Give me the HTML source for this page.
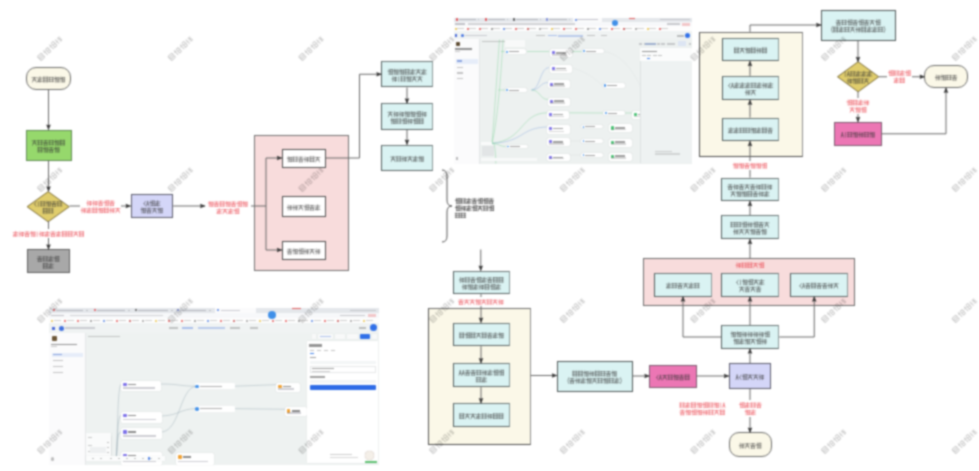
<!DOCTYPE html><html><head><meta charset="utf-8"><style>
html,body{margin:0;padding:0;background:#fff;width:979px;height:471px;overflow:hidden;font-family:"Liberation Sans",sans-serif}
.b,.t{position:absolute;box-sizing:border-box;display:block}
#wrap{position:absolute;left:0;top:0;width:979px;height:471px;filter:url(#bl);background:#fff}
</style></head><body><svg width="0" height="0" style="position:absolute"><filter id="bl" x="0" y="0" width="100%" height="100%" color-interpolation-filters="sRGB"><feConvolveMatrix order="5" kernelMatrix="1 8 16 8 1 8 64 128 64 8 16 128 256 128 16 8 64 128 64 8 1 8 16 8 1" divisor="1156" edgeMode="duplicate" preserveAlpha="true"/></filter></svg><div id="wrap">
<div class="b" style="left:453.7px;top:17.5px;width:238.0px;height:146.0px;background:#edf1f0;"></div><div class="b" style="left:453.7px;top:17.5px;width:238.0px;height:4.1px;background:#e4e7eb;"></div><div class="b" style="left:455.7px;top:18.4px;width:2.2px;height:2.2px;border-radius:50%;background:#e0474c;"></div><div class="b" style="left:458.5px;top:19.0px;width:17.5px;height:1.1px;background:rgba(90,90,100,0.35);"></div><div class="b" style="left:477.5px;top:19.0px;width:1.0px;height:1.1px;background:rgba(90,90,100,0.3);"></div><div class="b" style="left:484.7px;top:18.4px;width:2.2px;height:2.2px;border-radius:50%;background:#e0474c;"></div><div class="b" style="left:487.5px;top:19.0px;width:17.5px;height:1.1px;background:rgba(90,90,100,0.35);"></div><div class="b" style="left:506.5px;top:19.0px;width:1.0px;height:1.1px;background:rgba(90,90,100,0.3);"></div><div class="b" style="left:512.7px;top:18.4px;width:2.2px;height:2.2px;border-radius:50%;background:#555;"></div><div class="b" style="left:515.5px;top:19.0px;width:22.5px;height:1.1px;background:rgba(90,90,100,0.35);"></div><div class="b" style="left:539.5px;top:19.0px;width:1.0px;height:1.1px;background:rgba(90,90,100,0.3);"></div><div class="b" style="left:545.7px;top:18.4px;width:2.2px;height:2.2px;border-radius:50%;background:#7a8ad8;"></div><div class="b" style="left:548.5px;top:19.0px;width:18.5px;height:1.1px;background:rgba(90,90,100,0.35);"></div><div class="b" style="left:568.5px;top:19.0px;width:1.0px;height:1.1px;background:rgba(90,90,100,0.3);"></div><div class="b" style="left:573.0px;top:17.6px;width:29.3px;height:4.0px;background:#fbfbfc;"></div><div class="b" style="left:574.5px;top:18.5px;width:2.0px;height:2.0px;border-radius:50%;background:#4a7ae0;"></div><div class="b" style="left:577.0px;top:19.0px;width:21.0px;height:1.1px;background:rgba(90,90,110,0.35);"></div><div class="b" style="left:629.0px;top:17.5px;width:6.4px;height:0.7px;background:#e05a5a;"></div><div class="b" style="left:660.0px;top:19.0px;width:30.0px;height:1.1px;background:rgba(90,90,100,0.25);"></div><div class="b" style="left:453.7px;top:21.6px;width:238.0px;height:4.7px;background:#f7f8fa;"></div><div class="b" style="left:455.0px;top:23.4px;width:10.0px;height:1.2px;background:rgba(90,90,100,0.35);"></div><div class="b" style="left:468.0px;top:23.2px;width:107.0px;height:1.5px;background:rgba(110,110,120,0.28);"></div><div class="b" style="left:667.0px;top:23.2px;width:13.0px;height:1.5px;background:rgba(90,90,100,0.3);"></div><div class="b" style="left:682.0px;top:22.5px;width:8.0px;height:3.0px;background:#f2c6c8;"></div><div class="b" style="left:453.7px;top:26.3px;width:238.0px;height:4.9px;background:#fdfdfd;"></div><div class="b" style="left:455.0px;top:27.8px;width:1.6px;height:1.8px;background:#e8c040;border-radius:50%"></div><div class="b" style="left:457.3px;top:28.1px;width:6.7px;height:1.2px;background:rgba(100,100,100,0.3);"></div><div class="b" style="left:467.0px;top:27.8px;width:1.6px;height:1.8px;background:#e05050;border-radius:50%"></div><div class="b" style="left:469.3px;top:28.1px;width:6.7px;height:1.2px;background:rgba(100,100,100,0.3);"></div><div class="b" style="left:479.0px;top:27.8px;width:1.6px;height:1.8px;background:#e05050;border-radius:50%"></div><div class="b" style="left:481.3px;top:28.1px;width:6.7px;height:1.2px;background:rgba(100,100,100,0.3);"></div><div class="b" style="left:491.0px;top:27.8px;width:1.6px;height:1.8px;background:#888;border-radius:50%"></div><div class="b" style="left:493.3px;top:28.1px;width:6.7px;height:1.2px;background:rgba(100,100,100,0.3);"></div><div class="b" style="left:503.0px;top:27.8px;width:1.6px;height:1.8px;background:#5080e0;border-radius:50%"></div><div class="b" style="left:505.3px;top:28.1px;width:6.7px;height:1.2px;background:rgba(100,100,100,0.3);"></div><div class="b" style="left:515.0px;top:27.8px;width:1.6px;height:1.8px;background:#e05050;border-radius:50%"></div><div class="b" style="left:517.3px;top:28.1px;width:6.7px;height:1.2px;background:rgba(100,100,100,0.3);"></div><div class="b" style="left:527.0px;top:27.8px;width:1.6px;height:1.8px;background:#c04848;border-radius:50%"></div><div class="b" style="left:529.3px;top:28.1px;width:6.7px;height:1.2px;background:rgba(100,100,100,0.3);"></div><div class="b" style="left:539.0px;top:27.8px;width:1.6px;height:1.8px;background:#999;border-radius:50%"></div><div class="b" style="left:541.3px;top:28.1px;width:6.7px;height:1.2px;background:rgba(100,100,100,0.3);"></div><div class="b" style="left:551.0px;top:27.8px;width:1.6px;height:1.8px;background:#e8c040;border-radius:50%"></div><div class="b" style="left:553.3px;top:28.1px;width:6.7px;height:1.2px;background:rgba(100,100,100,0.3);"></div><div class="b" style="left:563.0px;top:27.8px;width:1.6px;height:1.8px;background:#e05050;border-radius:50%"></div><div class="b" style="left:565.3px;top:28.1px;width:6.7px;height:1.2px;background:rgba(100,100,100,0.3);"></div><div class="b" style="left:575.0px;top:27.8px;width:1.6px;height:1.8px;background:#e05050;border-radius:50%"></div><div class="b" style="left:577.3px;top:28.1px;width:6.7px;height:1.2px;background:rgba(100,100,100,0.3);"></div><div class="b" style="left:587.0px;top:27.8px;width:1.6px;height:1.8px;background:#888;border-radius:50%"></div><div class="b" style="left:589.3px;top:28.1px;width:6.7px;height:1.2px;background:rgba(100,100,100,0.3);"></div><div class="b" style="left:599.0px;top:27.8px;width:1.6px;height:1.8px;background:#5080e0;border-radius:50%"></div><div class="b" style="left:601.3px;top:28.1px;width:6.7px;height:1.2px;background:rgba(100,100,100,0.3);"></div><div class="b" style="left:611.0px;top:27.8px;width:1.6px;height:1.8px;background:#e05050;border-radius:50%"></div><div class="b" style="left:613.3px;top:28.1px;width:6.7px;height:1.2px;background:rgba(100,100,100,0.3);"></div><div class="b" style="left:623.0px;top:27.8px;width:1.6px;height:1.8px;background:#c04848;border-radius:50%"></div><div class="b" style="left:625.3px;top:28.1px;width:6.7px;height:1.2px;background:rgba(100,100,100,0.3);"></div><div class="b" style="left:635.0px;top:27.8px;width:1.6px;height:1.8px;background:#999;border-radius:50%"></div><div class="b" style="left:637.3px;top:28.1px;width:6.7px;height:1.2px;background:rgba(100,100,100,0.3);"></div><div class="b" style="left:647.0px;top:27.8px;width:1.6px;height:1.8px;background:#e8c040;border-radius:50%"></div><div class="b" style="left:649.3px;top:28.1px;width:6.7px;height:1.2px;background:rgba(100,100,100,0.3);"></div><div class="b" style="left:659.0px;top:27.8px;width:1.6px;height:1.8px;background:#e05050;border-radius:50%"></div><div class="b" style="left:661.3px;top:28.1px;width:6.7px;height:1.2px;background:rgba(100,100,100,0.3);"></div><div class="b" style="left:453.7px;top:31.2px;width:238.0px;height:7.8px;background:#f0f3f3;"></div><div class="b" style="left:611.7px;top:20.3px;width:6.0px;height:6.0px;border-radius:50%;background:#3f8fe8;"></div><div class="b" style="left:455.1px;top:34.2px;width:2.1px;height:2.8px;background:#4a6ad8;"></div><div class="b" style="left:460.9px;top:33.8px;width:3.6px;height:3.6px;border-radius:50%;background:#3f6fe0;"></div><div class="b" style="left:465.0px;top:35.0px;width:22.0px;height:1.2px;background:rgba(80,80,100,0.25);"></div><div class="b" style="left:536.0px;top:34.8px;width:9.0px;height:1.5px;background:rgba(80,80,80,0.3);"></div><div class="b" style="left:548.0px;top:34.8px;width:9.0px;height:1.5px;background:rgba(60,110,220,0.4);"></div><div class="b" style="left:558.0px;top:34.5px;width:25.0px;height:2.0px;background:rgba(60,110,220,0.3);"></div><div class="b" style="left:587.0px;top:34.8px;width:8.0px;height:1.5px;background:rgba(80,80,80,0.3);"></div><div class="b" style="left:601.0px;top:34.8px;width:6.0px;height:1.5px;background:rgba(80,80,80,0.3);"></div><div class="b" style="left:685.2px;top:33.3px;width:5.2px;height:5.2px;border-radius:50%;background:#2f6fe8;"></div><div class="b" style="left:677.0px;top:35.0px;width:7.0px;height:1.5px;background:rgba(60,60,60,0.3);"></div><div class="b" style="left:453.7px;top:39.0px;width:26.3px;height:124.5px;background:#fbfbfc;border-right:0.5px solid #e4e6e8"></div><div class="b" style="left:455.5px;top:41.5px;width:4.0px;height:4.5px;background:#5c4a30;border-radius:1px"></div><div class="b" style="left:455.0px;top:48.0px;width:17.0px;height:1.5px;background:rgba(40,40,40,0.5);"></div><div class="b" style="left:455.0px;top:50.5px;width:5.0px;height:1.0px;background:rgba(80,80,80,0.3);"></div><div class="b" style="left:455.5px;top:58.5px;width:22.5px;height:5.5px;background:#e6edf9;"></div><div class="b" style="left:456.5px;top:60.3px;width:5.5px;height:1.9px;background:rgba(60,100,200,0.55);"></div><div class="b" style="left:456.5px;top:66.5px;width:6.5px;height:1.8px;background:rgba(90,90,90,0.35);"></div><div class="b" style="left:456.5px;top:72.0px;width:6.5px;height:1.8px;background:rgba(90,90,90,0.35);"></div><div class="b" style="left:456.5px;top:77.7px;width:6.5px;height:1.8px;background:rgba(90,90,90,0.35);"></div><div class="b" style="left:455.5px;top:157.0px;width:2.5px;height:2.5px;background:rgba(90,90,90,0.4);"></div><div class="b" style="left:481.5px;top:40.5px;width:23.5px;height:1.8px;background:rgba(90,90,90,0.3);"></div><div class="b" style="left:505.0px;top:40.0px;width:20.0px;height:7.0px;background:#f8f9f9;"></div><div class="b" style="left:638.5px;top:42.5px;width:3.0px;height:2.0px;background:rgba(90,90,100,0.28);"></div><div class="b" style="left:644.0px;top:42.5px;width:12.0px;height:2.0px;background:rgba(90,90,100,0.28);"></div><div class="b" style="left:657.0px;top:42.5px;width:2.5px;height:2.0px;background:rgba(90,90,100,0.28);"></div><div class="b" style="left:661.0px;top:42.5px;width:3.5px;height:2.0px;background:rgba(90,90,100,0.28);"></div><div class="b" style="left:667.0px;top:42.5px;width:8.0px;height:2.0px;background:rgba(90,90,100,0.28);"></div><div class="b" style="left:689.0px;top:42.5px;width:2.0px;height:2.0px;background:rgba(90,90,100,0.28);"></div><div class="b" style="left:645.0px;top:42.5px;width:11.0px;height:2.0px;background:rgba(70,120,220,0.3);"></div><div class="b" style="left:677.5px;top:41.0px;width:8.0px;height:5.0px;background:#dce5f3;"></div><svg class="b" style="left:0;top:0" width="979" height="471"><g fill="none" stroke-width="0.7"><path d="M492,143.3 C494,120 498,60 499.5,39.5" stroke="rgba(110,205,140,0.55)"/><path d="M492,143.3 C498,120 502,60 503,39.5" stroke="rgba(110,205,140,0.55)" /><path d="M501,51.5 L504.7,51.5" stroke="rgba(110,205,140,0.55)"/><path d="M527,51.5 L549.3,51.5" stroke="rgba(110,205,140,0.55)"/><path d="M572.4,51.5 L581.7,51.5" stroke="rgba(110,205,140,0.55)"/><path d="M498,90 L505.5,90" stroke="rgba(110,205,140,0.55)"/><path d="M531.5,90 C540,90 540,67.5 549,67.5" stroke="rgba(110,150,215,0.5)"/><path d="M531.5,90 C540,90 540,82.5 548,82.5" stroke="rgba(110,150,215,0.5)"/><path d="M531.5,90 C540,90 540,99.5 548,99.5" stroke="rgba(110,205,140,0.55)"/><path d="M492,143.3 C525,140 520,112.8 547.8,112.8" stroke="rgba(110,205,140,0.55)"/><path d="M569.4,112.8 L603.3,113 M624.8,113 L632.2,113" stroke="rgba(110,205,140,0.55)"/><path d="M492,143.3 C525,142 520,127 548.6,127" stroke="rgba(110,150,215,0.5)"/><path d="M492,143.3 C500,144 500,146.5 505.5,146.5" stroke="rgba(110,205,140,0.55)"/><path d="M494,143.3 C495.5,150 495.8,158 495.8,163.5" stroke="rgba(110,205,140,0.55)"/><path d="M604,51.5 C625,55 635,75 645,95 M573,68 C595,75 600,85 602.5,85.5 M570,141 L581,141 M570,155 L581,155" stroke="rgba(160,170,170,0.14)"/></g></svg><div class="b" style="left:481.0px;top:142.0px;width:11.0px;height:3.0px;background:#fafbfb;"></div><div class="b" style="left:504.7px;top:49.4px;width:21.6px;height:4.2px;background:#ffffff;border-radius:1.5px;box-shadow:0 0 1px rgba(0,0,0,0.25)"></div><div class="b" style="left:506.2px;top:50.5px;width:2.1px;height:2.1px;background:#3f8fe8;border-radius:1px"></div><div class="b" style="left:509.3px;top:51.2px;width:9.7px;height:0.7px;background:rgba(40,40,40,0.45);"></div><div class="b" style="left:550.0px;top:49.0px;width:22.4px;height:8.3px;background:#ffffff;border-radius:1.5px;box-shadow:0 0 1px rgba(0,0,0,0.25)"></div><div class="b" style="left:551.5px;top:51.2px;width:3.2px;height:3.2px;background:#7a6ee8;border-radius:1px"></div><div class="b" style="left:555.7px;top:51.9px;width:10.1px;height:1.8px;background:rgba(40,40,40,0.45);"></div><div class="b" style="left:551.5px;top:54.0px;width:15.3px;height:1.5px;background:rgba(90,90,90,0.25);"></div><div class="b" style="left:581.7px;top:49.4px;width:22.3px;height:3.7px;background:#ffffff;border-radius:1.5px;box-shadow:0 0 1px rgba(0,0,0,0.25)"></div><div class="b" style="left:583.2px;top:50.3px;width:1.9px;height:1.9px;background:#3f8fe8;border-radius:1px"></div><div class="b" style="left:586.1px;top:51.0px;width:10.0px;height:0.4px;background:rgba(40,40,40,0.45);"></div><div class="b" style="left:550.0px;top:64.7px;width:22.0px;height:8.2px;background:#ffffff;border-radius:1.5px;box-shadow:0 0 1px rgba(0,0,0,0.25)"></div><div class="b" style="left:551.5px;top:66.9px;width:3.2px;height:3.2px;background:#7a6ee8;border-radius:1px"></div><div class="b" style="left:555.7px;top:67.6px;width:9.9px;height:1.8px;background:rgba(40,40,40,0.45);"></div><div class="b" style="left:551.5px;top:69.6px;width:15.0px;height:1.5px;background:rgba(90,90,90,0.25);"></div><div class="b" style="left:548.0px;top:80.4px;width:22.0px;height:8.1px;background:#ffffff;border-radius:1.5px;box-shadow:0 0 1px rgba(0,0,0,0.25)"></div><div class="b" style="left:549.5px;top:82.6px;width:3.2px;height:3.2px;background:#7a6ee8;border-radius:1px"></div><div class="b" style="left:553.7px;top:83.3px;width:9.9px;height:1.8px;background:rgba(40,40,40,0.45);"></div><div class="b" style="left:549.5px;top:85.2px;width:15.0px;height:1.5px;background:rgba(90,90,90,0.25);"></div><div class="b" style="left:548.0px;top:97.5px;width:22.0px;height:8.0px;background:#ffffff;border-radius:1.5px;box-shadow:0 0 1px rgba(0,0,0,0.25)"></div><div class="b" style="left:549.5px;top:99.7px;width:3.2px;height:3.2px;background:#7a6ee8;border-radius:1px"></div><div class="b" style="left:553.7px;top:100.4px;width:9.9px;height:1.8px;background:rgba(40,40,40,0.45);"></div><div class="b" style="left:549.5px;top:102.2px;width:15.0px;height:1.5px;background:rgba(90,90,90,0.25);"></div><div class="b" style="left:504.7px;top:88.0px;width:22.3px;height:4.0px;background:#ffffff;border-radius:1.5px;box-shadow:0 0 1px rgba(0,0,0,0.25)"></div><div class="b" style="left:506.2px;top:89.0px;width:2.0px;height:2.0px;background:#3f8fe8;border-radius:1px"></div><div class="b" style="left:509.2px;top:89.7px;width:10.0px;height:0.6px;background:rgba(40,40,40,0.45);"></div><div class="b" style="left:602.5px;top:83.3px;width:22.3px;height:4.5px;background:#ffffff;border-radius:1.5px;box-shadow:0 0 1px rgba(0,0,0,0.25)"></div><div class="b" style="left:604.0px;top:84.4px;width:2.2px;height:2.2px;background:#3f8fe8;border-radius:1px"></div><div class="b" style="left:607.2px;top:85.1px;width:10.0px;height:0.8px;background:rgba(40,40,40,0.45);"></div><div class="b" style="left:547.0px;top:110.6px;width:22.4px;height:8.2px;background:#ffffff;border-radius:1.5px;box-shadow:0 0 1px rgba(0,0,0,0.25)"></div><div class="b" style="left:548.5px;top:112.8px;width:3.2px;height:3.2px;background:#7a6ee8;border-radius:1px"></div><div class="b" style="left:552.7px;top:113.5px;width:10.1px;height:1.8px;background:rgba(40,40,40,0.45);"></div><div class="b" style="left:548.5px;top:115.5px;width:15.3px;height:1.5px;background:rgba(90,90,90,0.25);"></div><div class="b" style="left:547.0px;top:124.7px;width:23.0px;height:9.3px;background:#ffffff;border-radius:1.5px;box-shadow:0 0 1px rgba(0,0,0,0.25)"></div><div class="b" style="left:548.5px;top:126.9px;width:3.2px;height:3.2px;background:#7a6ee8;border-radius:1px"></div><div class="b" style="left:552.7px;top:127.6px;width:10.4px;height:1.8px;background:rgba(40,40,40,0.45);"></div><div class="b" style="left:548.5px;top:130.7px;width:15.8px;height:1.5px;background:rgba(90,90,90,0.25);"></div><div class="b" style="left:547.0px;top:138.0px;width:23.0px;height:8.3px;background:#ffffff;border-radius:1.5px;box-shadow:0 0 1px rgba(0,0,0,0.25)"></div><div class="b" style="left:548.5px;top:140.2px;width:3.2px;height:3.2px;background:#7a6ee8;border-radius:1px"></div><div class="b" style="left:552.7px;top:140.9px;width:10.4px;height:1.8px;background:rgba(40,40,40,0.45);"></div><div class="b" style="left:548.5px;top:143.0px;width:15.8px;height:1.5px;background:rgba(90,90,90,0.25);"></div><div class="b" style="left:547.0px;top:153.7px;width:23.0px;height:7.5px;background:#ffffff;border-radius:1.5px;box-shadow:0 0 1px rgba(0,0,0,0.25)"></div><div class="b" style="left:548.5px;top:155.9px;width:3.2px;height:3.2px;background:#7a6ee8;border-radius:1px"></div><div class="b" style="left:552.7px;top:156.6px;width:10.4px;height:1.8px;background:rgba(40,40,40,0.45);"></div><div class="b" style="left:548.5px;top:157.9px;width:15.8px;height:1.5px;background:rgba(90,90,90,0.25);"></div><div class="b" style="left:505.5px;top:144.8px;width:22.3px;height:3.4px;background:#ffffff;border-radius:1.5px;box-shadow:0 0 1px rgba(0,0,0,0.25)"></div><div class="b" style="left:507.0px;top:145.7px;width:1.7px;height:1.7px;background:#3f8fe8;border-radius:1px"></div><div class="b" style="left:509.7px;top:146.3px;width:10.0px;height:0.3px;background:rgba(40,40,40,0.45);"></div><div class="b" style="left:603.3px;top:111.0px;width:21.5px;height:4.0px;background:#ffffff;border-radius:1.5px;box-shadow:0 0 1px rgba(0,0,0,0.25)"></div><div class="b" style="left:604.8px;top:112.0px;width:2.0px;height:2.0px;background:#3f8fe8;border-radius:1px"></div><div class="b" style="left:607.8px;top:112.7px;width:9.7px;height:0.6px;background:rgba(40,40,40,0.45);"></div><div class="b" style="left:632.2px;top:110.6px;width:12.8px;height:8.2px;background:#ffffff;border-radius:1.5px;box-shadow:0 0 1px rgba(0,0,0,0.25)"></div><div class="b" style="left:633.7px;top:112.8px;width:3.2px;height:3.2px;background:#45c070;border-radius:1px"></div><div class="b" style="left:637.9px;top:113.5px;width:5.8px;height:1.8px;background:rgba(40,40,40,0.45);"></div><div class="b" style="left:633.7px;top:115.5px;width:8.1px;height:1.5px;background:rgba(90,90,90,0.25);"></div><div class="b" style="left:581.0px;top:124.7px;width:22.0px;height:3.8px;background:#ffffff;border-radius:1.5px;box-shadow:0 0 1px rgba(0,0,0,0.25)"></div><div class="b" style="left:582.5px;top:125.7px;width:1.9px;height:1.9px;background:#3f8fe8;border-radius:1px"></div><div class="b" style="left:585.4px;top:126.4px;width:9.9px;height:0.5px;background:rgba(40,40,40,0.45);"></div><div class="b" style="left:609.0px;top:124.2px;width:23.0px;height:8.0px;background:#ffffff;border-radius:1.5px;box-shadow:0 0 1px rgba(0,0,0,0.25)"></div><div class="b" style="left:610.5px;top:126.4px;width:3.2px;height:3.2px;background:#45c070;border-radius:1px"></div><div class="b" style="left:614.7px;top:127.1px;width:10.4px;height:1.8px;background:rgba(40,40,40,0.45);"></div><div class="b" style="left:610.5px;top:128.9px;width:15.8px;height:1.5px;background:rgba(90,90,90,0.25);"></div><div class="b" style="left:581.0px;top:139.0px;width:22.0px;height:3.8px;background:#ffffff;border-radius:1.5px;box-shadow:0 0 1px rgba(0,0,0,0.25)"></div><div class="b" style="left:582.5px;top:139.9px;width:1.9px;height:1.9px;background:#3f8fe8;border-radius:1px"></div><div class="b" style="left:585.4px;top:140.6px;width:9.9px;height:0.5px;background:rgba(40,40,40,0.45);"></div><div class="b" style="left:609.0px;top:138.5px;width:23.0px;height:8.0px;background:#ffffff;border-radius:1.5px;box-shadow:0 0 1px rgba(0,0,0,0.25)"></div><div class="b" style="left:610.5px;top:140.7px;width:3.2px;height:3.2px;background:#45c070;border-radius:1px"></div><div class="b" style="left:614.7px;top:141.4px;width:10.4px;height:1.8px;background:rgba(40,40,40,0.45);"></div><div class="b" style="left:610.5px;top:143.2px;width:15.8px;height:1.5px;background:rgba(90,90,90,0.25);"></div><div class="b" style="left:581.0px;top:153.0px;width:22.0px;height:3.8px;background:#ffffff;border-radius:1.5px;box-shadow:0 0 1px rgba(0,0,0,0.25)"></div><div class="b" style="left:582.5px;top:153.9px;width:1.9px;height:1.9px;background:#3f8fe8;border-radius:1px"></div><div class="b" style="left:585.4px;top:154.6px;width:9.9px;height:0.5px;background:rgba(40,40,40,0.45);"></div><div class="b" style="left:609.0px;top:152.5px;width:23.0px;height:8.0px;background:#ffffff;border-radius:1.5px;box-shadow:0 0 1px rgba(0,0,0,0.25)"></div><div class="b" style="left:610.5px;top:154.7px;width:3.2px;height:3.2px;background:#45c070;border-radius:1px"></div><div class="b" style="left:614.7px;top:155.4px;width:10.4px;height:1.8px;background:rgba(40,40,40,0.45);"></div><div class="b" style="left:610.5px;top:157.2px;width:15.8px;height:1.5px;background:rgba(90,90,90,0.25);"></div><div class="b" style="left:481.7px;top:145.6px;width:12.6px;height:10.4px;background:#e2e5e6;"></div><div class="b" style="left:481.0px;top:157.5px;width:56.0px;height:3.5px;background:#f8f9f9;"></div><div class="b" style="left:639.7px;top:48.4px;width:52.0px;height:115.0px;background:#eef2f2;border-left:0.6px solid #dde2e2;box-shadow:-0.5px 0 1px rgba(0,0,0,0.05)"></div><div class="b" style="left:639.7px;top:48.4px;width:52.0px;height:12.6px;background:#fbfcfc;"></div><div class="b" style="left:641.5px;top:50.5px;width:15.5px;height:1.8px;background:rgba(40,40,40,0.5);"></div><div class="b" style="left:641.5px;top:54.8px;width:4.0px;height:1.7px;background:rgba(80,80,80,0.35);"></div><div class="b" style="left:647.0px;top:54.8px;width:4.0px;height:1.7px;background:rgba(80,80,80,0.35);"></div><div class="b" style="left:652.5px;top:54.8px;width:4.0px;height:1.7px;background:rgba(80,80,80,0.35);"></div><div class="b" style="left:658.0px;top:54.8px;width:4.0px;height:1.7px;background:rgba(80,80,80,0.35);"></div><div class="b" style="left:647.0px;top:57.5px;width:3.0px;height:0.7px;background:#3f7fe8;"></div><div class="b" style="left:655.0px;top:150.5px;width:17.0px;height:1.5px;background:rgba(90,90,90,0.25);"></div><div class="b" style="left:655.0px;top:153.0px;width:25.0px;height:1.5px;background:rgba(90,90,90,0.2);"></div>
<div class="b" style="left:49.3px;top:308.0px;width:329.5px;height:156.6px;background:#eef2f1;"></div><div class="b" style="left:49.3px;top:308.0px;width:329.5px;height:4.6px;background:#e4e7eb;"></div><div class="b" style="left:52.5px;top:308.9px;width:2.6px;height:2.6px;border-radius:50%;background:#e0474c;"></div><div class="b" style="left:56.0px;top:309.6px;width:27.0px;height:1.3px;background:rgba(90,90,100,0.35);"></div><div class="b" style="left:86.0px;top:309.6px;width:1.5px;height:1.3px;background:rgba(90,90,100,0.3);"></div><div class="b" style="left:93.5px;top:308.9px;width:2.6px;height:2.6px;border-radius:50%;background:#e0474c;"></div><div class="b" style="left:97.0px;top:309.6px;width:28.0px;height:1.3px;background:rgba(90,90,100,0.35);"></div><div class="b" style="left:128.0px;top:309.6px;width:1.5px;height:1.3px;background:rgba(90,90,100,0.3);"></div><div class="b" style="left:134.5px;top:308.9px;width:2.6px;height:2.6px;border-radius:50%;background:#555;"></div><div class="b" style="left:138.0px;top:309.6px;width:30.0px;height:1.3px;background:rgba(90,90,100,0.35);"></div><div class="b" style="left:171.0px;top:309.6px;width:1.5px;height:1.3px;background:rgba(90,90,100,0.3);"></div><div class="b" style="left:176.5px;top:308.9px;width:2.6px;height:2.6px;border-radius:50%;background:#7a8ad8;"></div><div class="b" style="left:180.0px;top:309.6px;width:26.0px;height:1.3px;background:rgba(90,90,100,0.35);"></div><div class="b" style="left:209.0px;top:309.6px;width:1.5px;height:1.3px;background:rgba(90,90,100,0.3);"></div><div class="b" style="left:215.0px;top:308.2px;width:40.5px;height:4.4px;background:#fbfbfc;"></div><div class="b" style="left:216.8px;top:309.0px;width:2.4px;height:2.4px;border-radius:50%;background:#4a7ae0;"></div><div class="b" style="left:221.0px;top:309.6px;width:19.0px;height:1.3px;background:rgba(90,90,110,0.3);"></div><div class="b" style="left:292.0px;top:308.0px;width:8.6px;height:0.8px;background:#e05a5a;"></div><div class="b" style="left:350.0px;top:309.6px;width:26.0px;height:1.3px;background:rgba(90,90,100,0.25);"></div><div class="b" style="left:49.3px;top:312.6px;width:329.5px;height:5.4px;background:#f7f8fa;"></div><div class="b" style="left:51.0px;top:314.6px;width:13.0px;height:1.3px;background:rgba(90,90,100,0.35);"></div><div class="b" style="left:70.0px;top:314.5px;width:93.0px;height:1.5px;background:rgba(110,110,120,0.28);"></div><div class="b" style="left:340.0px;top:314.5px;width:25.0px;height:1.5px;background:rgba(90,90,100,0.3);"></div><div class="b" style="left:367.7px;top:313.5px;width:8.3px;height:3.5px;background:#f2c6c8;"></div><div class="b" style="left:49.3px;top:318.0px;width:329.5px;height:5.4px;background:#fdfdfd;"></div><div class="b" style="left:51.0px;top:319.8px;width:2.0px;height:2.0px;background:#e8c040;border-radius:50%"></div><div class="b" style="left:53.8px;top:320.1px;width:7.7px;height:1.4px;background:rgba(100,100,100,0.3);"></div><div class="b" style="left:64.0px;top:319.8px;width:2.0px;height:2.0px;background:#e05050;border-radius:50%"></div><div class="b" style="left:66.8px;top:320.1px;width:7.7px;height:1.4px;background:rgba(100,100,100,0.3);"></div><div class="b" style="left:77.0px;top:319.8px;width:2.0px;height:2.0px;background:#e05050;border-radius:50%"></div><div class="b" style="left:79.8px;top:320.1px;width:7.7px;height:1.4px;background:rgba(100,100,100,0.3);"></div><div class="b" style="left:90.0px;top:319.8px;width:2.0px;height:2.0px;background:#888;border-radius:50%"></div><div class="b" style="left:92.8px;top:320.1px;width:7.7px;height:1.4px;background:rgba(100,100,100,0.3);"></div><div class="b" style="left:103.0px;top:319.8px;width:2.0px;height:2.0px;background:#5080e0;border-radius:50%"></div><div class="b" style="left:105.8px;top:320.1px;width:7.7px;height:1.4px;background:rgba(100,100,100,0.3);"></div><div class="b" style="left:116.0px;top:319.8px;width:2.0px;height:2.0px;background:#e05050;border-radius:50%"></div><div class="b" style="left:118.8px;top:320.1px;width:7.7px;height:1.4px;background:rgba(100,100,100,0.3);"></div><div class="b" style="left:129.0px;top:319.8px;width:2.0px;height:2.0px;background:#c04848;border-radius:50%"></div><div class="b" style="left:131.8px;top:320.1px;width:7.7px;height:1.4px;background:rgba(100,100,100,0.3);"></div><div class="b" style="left:142.0px;top:319.8px;width:2.0px;height:2.0px;background:#999;border-radius:50%"></div><div class="b" style="left:144.8px;top:320.1px;width:7.7px;height:1.4px;background:rgba(100,100,100,0.3);"></div><div class="b" style="left:155.0px;top:319.8px;width:2.0px;height:2.0px;background:#e8c040;border-radius:50%"></div><div class="b" style="left:157.8px;top:320.1px;width:7.7px;height:1.4px;background:rgba(100,100,100,0.3);"></div><div class="b" style="left:168.0px;top:319.8px;width:2.0px;height:2.0px;background:#e05050;border-radius:50%"></div><div class="b" style="left:170.8px;top:320.1px;width:7.7px;height:1.4px;background:rgba(100,100,100,0.3);"></div><div class="b" style="left:181.0px;top:319.8px;width:2.0px;height:2.0px;background:#e05050;border-radius:50%"></div><div class="b" style="left:183.8px;top:320.1px;width:7.7px;height:1.4px;background:rgba(100,100,100,0.3);"></div><div class="b" style="left:194.0px;top:319.8px;width:2.0px;height:2.0px;background:#888;border-radius:50%"></div><div class="b" style="left:196.8px;top:320.1px;width:7.7px;height:1.4px;background:rgba(100,100,100,0.3);"></div><div class="b" style="left:207.0px;top:319.8px;width:2.0px;height:2.0px;background:#5080e0;border-radius:50%"></div><div class="b" style="left:209.8px;top:320.1px;width:7.7px;height:1.4px;background:rgba(100,100,100,0.3);"></div><div class="b" style="left:220.0px;top:319.8px;width:2.0px;height:2.0px;background:#e05050;border-radius:50%"></div><div class="b" style="left:222.8px;top:320.1px;width:7.7px;height:1.4px;background:rgba(100,100,100,0.3);"></div><div class="b" style="left:233.0px;top:319.8px;width:2.0px;height:2.0px;background:#c04848;border-radius:50%"></div><div class="b" style="left:235.8px;top:320.1px;width:7.7px;height:1.4px;background:rgba(100,100,100,0.3);"></div><div class="b" style="left:246.0px;top:319.8px;width:2.0px;height:2.0px;background:#999;border-radius:50%"></div><div class="b" style="left:248.8px;top:320.1px;width:7.7px;height:1.4px;background:rgba(100,100,100,0.3);"></div><div class="b" style="left:259.0px;top:319.8px;width:2.0px;height:2.0px;background:#e8c040;border-radius:50%"></div><div class="b" style="left:261.8px;top:320.1px;width:7.7px;height:1.4px;background:rgba(100,100,100,0.3);"></div><div class="b" style="left:272.0px;top:319.8px;width:2.0px;height:2.0px;background:#e05050;border-radius:50%"></div><div class="b" style="left:274.8px;top:320.1px;width:7.7px;height:1.4px;background:rgba(100,100,100,0.3);"></div><div class="b" style="left:285.0px;top:319.8px;width:2.0px;height:2.0px;background:#e05050;border-radius:50%"></div><div class="b" style="left:287.8px;top:320.1px;width:7.7px;height:1.4px;background:rgba(100,100,100,0.3);"></div><div class="b" style="left:298.0px;top:319.8px;width:2.0px;height:2.0px;background:#888;border-radius:50%"></div><div class="b" style="left:300.8px;top:320.1px;width:7.7px;height:1.4px;background:rgba(100,100,100,0.3);"></div><div class="b" style="left:311.0px;top:319.8px;width:2.0px;height:2.0px;background:#5080e0;border-radius:50%"></div><div class="b" style="left:313.8px;top:320.1px;width:7.7px;height:1.4px;background:rgba(100,100,100,0.3);"></div><div class="b" style="left:324.0px;top:319.8px;width:2.0px;height:2.0px;background:#e05050;border-radius:50%"></div><div class="b" style="left:326.8px;top:320.1px;width:7.7px;height:1.4px;background:rgba(100,100,100,0.3);"></div><div class="b" style="left:337.0px;top:319.8px;width:2.0px;height:2.0px;background:#c04848;border-radius:50%"></div><div class="b" style="left:339.8px;top:320.1px;width:7.7px;height:1.4px;background:rgba(100,100,100,0.3);"></div><div class="b" style="left:350.0px;top:319.8px;width:2.0px;height:2.0px;background:#999;border-radius:50%"></div><div class="b" style="left:352.8px;top:320.1px;width:7.7px;height:1.4px;background:rgba(100,100,100,0.3);"></div><div class="b" style="left:363.0px;top:319.8px;width:2.0px;height:2.0px;background:#e8c040;border-radius:50%"></div><div class="b" style="left:365.8px;top:320.1px;width:7.7px;height:1.4px;background:rgba(100,100,100,0.3);"></div><div class="b" style="left:49.3px;top:323.4px;width:329.5px;height:9.6px;background:#f0f3f3;"></div><div class="b" style="left:268.3px;top:310.5px;width:8.0px;height:8.0px;border-radius:50%;background:#3f8fe8;"></div><div class="b" style="left:52.0px;top:326.5px;width:2.5px;height:3.5px;background:#4a6ad8;"></div><div class="b" style="left:59.3px;top:325.5px;width:5.0px;height:5.0px;border-radius:50%;background:#3f6fe0;"></div><div class="b" style="left:65.0px;top:327.4px;width:30.0px;height:1.4px;background:rgba(80,80,100,0.25);"></div><div class="b" style="left:169.0px;top:327.3px;width:9.0px;height:1.5px;background:rgba(80,80,80,0.3);"></div><div class="b" style="left:182.0px;top:327.3px;width:11.0px;height:1.5px;background:rgba(60,110,220,0.4);"></div><div class="b" style="left:198.0px;top:327.0px;width:27.0px;height:2.0px;background:rgba(60,110,220,0.3);"></div><div class="b" style="left:230.0px;top:327.3px;width:10.0px;height:1.5px;background:rgba(80,80,80,0.3);"></div><div class="b" style="left:250.0px;top:327.3px;width:8.0px;height:1.5px;background:rgba(80,80,80,0.3);"></div><div class="b" style="left:369.9px;top:324.4px;width:7.0px;height:7.0px;border-radius:50%;background:#2f6fe8;"></div><div class="b" style="left:359.0px;top:327.2px;width:6.5px;height:1.6px;background:rgba(60,60,60,0.3);"></div><div class="b" style="left:49.3px;top:333.0px;width:36.7px;height:131.6px;background:#fbfbfc;border-right:0.5px solid #e4e6e8"></div><div class="b" style="left:51.5px;top:335.5px;width:5.5px;height:5.5px;background:#6a5535;border-radius:1px"></div><div class="b" style="left:51.0px;top:343.5px;width:26.0px;height:1.5px;background:rgba(40,40,40,0.5);"></div><div class="b" style="left:51.0px;top:346.0px;width:6.0px;height:1.0px;background:rgba(80,80,80,0.3);"></div><div class="b" style="left:52.0px;top:352.5px;width:31.0px;height:4.0px;background:#e6edf9;"></div><div class="b" style="left:53.0px;top:353.8px;width:9.0px;height:1.4px;background:rgba(60,100,200,0.55);"></div><div class="b" style="left:53.0px;top:359.7px;width:10.0px;height:1.5px;background:rgba(90,90,90,0.35);"></div><div class="b" style="left:53.0px;top:365.7px;width:10.0px;height:1.5px;background:rgba(90,90,90,0.35);"></div><div class="b" style="left:53.0px;top:371.7px;width:10.0px;height:1.5px;background:rgba(90,90,90,0.35);"></div><div class="b" style="left:50.9px;top:457.4px;width:3.2px;height:3.2px;border-radius:50%;background:rgba(90,90,90,0.4);"></div><div class="b" style="left:88.0px;top:335.5px;width:32.0px;height:1.5px;background:rgba(90,90,90,0.3);"></div><div class="b" style="left:312.0px;top:334.0px;width:4.0px;height:4.7px;background:#f8f9f9;box-shadow:0 0 0.8px rgba(0,0,0,0.12)"></div><div class="b" style="left:318.0px;top:334.0px;width:15.0px;height:4.7px;background:#f8f9f9;box-shadow:0 0 0.8px rgba(0,0,0,0.12)"></div><div class="b" style="left:335.0px;top:334.0px;width:10.0px;height:4.7px;background:#f8f9f9;box-shadow:0 0 0.8px rgba(0,0,0,0.12)"></div><div class="b" style="left:347.0px;top:334.0px;width:11.0px;height:4.7px;background:#f8f9f9;box-shadow:0 0 0.8px rgba(0,0,0,0.12)"></div><div class="b" style="left:372.0px;top:334.0px;width:5.0px;height:4.7px;background:#f8f9f9;box-shadow:0 0 0.8px rgba(0,0,0,0.12)"></div><div class="b" style="left:320.0px;top:335.8px;width:11.0px;height:1.2px;background:rgba(60,110,220,0.4);"></div><div class="b" style="left:359.7px;top:334.0px;width:10.1px;height:4.6px;background:#2f6fe8;border-radius:1px"></div><svg class="b" style="left:0;top:0" width="979" height="471"><g fill="none" stroke-width="0.7"><path d="M116,461 C118,440 117,385 121.4,384" stroke="rgba(140,160,170,0.55)"/><path d="M116,461 C118,440 117,416 121.4,415" stroke="rgba(140,160,170,0.55)"/><path d="M116,461 C118,440 117,432 121.4,432" stroke="rgba(140,160,170,0.55)"/><path d="M160.8,384 C180,384 180,386.2 196,386.2" stroke="rgba(140,160,170,0.55)"/><path d="M162,416 C180,415 180,409 196,408.6" stroke="rgba(140,160,170,0.55)"/><path d="M162,432 C180,430 180,388 196,386.2" stroke="rgba(140,160,170,0.55)"/><path d="M235,386.2 L278,384.6" stroke="rgba(140,160,170,0.55)"/><path d="M235,408.6 L286,409.3" stroke="rgba(140,160,170,0.55)"/></g></svg><div class="b" style="left:121.4px;top:380.6px;width:39.4px;height:10.4px;background:#ffffff;border-radius:1.5px;box-shadow:0 0 1px rgba(0,0,0,0.2)"></div><div class="b" style="left:123.4px;top:382.6px;width:3.5px;height:3.5px;background:#7a6ee8;border-radius:1px"></div><div class="b" style="left:128.4px;top:383.6px;width:8.0px;height:1.6px;background:rgba(40,40,40,0.55);"></div><div class="b" style="left:123.4px;top:387.0px;width:31.4px;height:1.5px;background:rgba(90,90,110,0.3);"></div><div class="b" style="left:121.4px;top:411.7px;width:40.6px;height:11.2px;background:#ffffff;border-radius:1.5px;box-shadow:0 0 1px rgba(0,0,0,0.2)"></div><div class="b" style="left:123.4px;top:413.7px;width:3.5px;height:3.5px;background:#7a6ee8;border-radius:1px"></div><div class="b" style="left:128.4px;top:414.7px;width:8.0px;height:1.6px;background:rgba(40,40,40,0.55);"></div><div class="b" style="left:123.4px;top:418.9px;width:32.6px;height:1.5px;background:rgba(90,90,110,0.3);"></div><div class="b" style="left:121.4px;top:428.4px;width:40.6px;height:10.8px;background:#ffffff;border-radius:1.5px;box-shadow:0 0 1px rgba(0,0,0,0.2)"></div><div class="b" style="left:123.4px;top:430.4px;width:3.5px;height:3.5px;background:#7a6ee8;border-radius:1px"></div><div class="b" style="left:128.4px;top:431.4px;width:8.0px;height:1.6px;background:rgba(40,40,40,0.55);"></div><div class="b" style="left:123.4px;top:435.2px;width:32.6px;height:1.5px;background:rgba(90,90,110,0.3);"></div><div class="b" style="left:121.4px;top:452.0px;width:40.6px;height:12.6px;background:#ffffff;border-radius:1.5px;box-shadow:0 0 1px rgba(0,0,0,0.2)"></div><div class="b" style="left:123.4px;top:454.0px;width:3.5px;height:3.5px;background:#7a6ee8;border-radius:1px"></div><div class="b" style="left:128.4px;top:455.0px;width:8.0px;height:1.6px;background:rgba(40,40,40,0.55);"></div><div class="b" style="left:123.4px;top:460.6px;width:32.6px;height:1.5px;background:rgba(90,90,110,0.3);"></div><div class="b" style="left:195.0px;top:383.3px;width:40.4px;height:6.0px;background:#ffffff;border-radius:1.5px"></div><div class="b" style="left:195.0px;top:384.5px;width:3.6px;height:3.6px;border-radius:50%;background:#3f8fe8;"></div><div class="b" style="left:199.5px;top:385.6px;width:22.2px;height:1.4px;background:rgba(40,40,40,0.38);"></div><div class="b" style="left:195.0px;top:405.8px;width:40.4px;height:6.0px;background:#ffffff;border-radius:1.5px"></div><div class="b" style="left:195.0px;top:407.0px;width:3.6px;height:3.6px;border-radius:50%;background:#3f8fe8;"></div><div class="b" style="left:199.5px;top:408.1px;width:22.2px;height:1.4px;background:rgba(40,40,40,0.38);"></div><div class="b" style="left:276.3px;top:382.5px;width:23.7px;height:9.5px;background:#ffffff;border-radius:1.5px;box-shadow:0 0 1px rgba(0,0,0,0.2)"></div><div class="b" style="left:278.3px;top:384.5px;width:3.5px;height:3.5px;background:#f0a030;border-radius:1px"></div><div class="b" style="left:283.3px;top:385.5px;width:8.0px;height:1.6px;background:rgba(40,40,40,0.55);"></div><div class="b" style="left:278.3px;top:388.0px;width:15.7px;height:1.5px;background:rgba(90,90,110,0.3);"></div><div class="b" style="left:284.9px;top:407.3px;width:22.1px;height:8.7px;background:#ffffff;border-radius:1.5px;box-shadow:0 0 1px rgba(0,0,0,0.2)"></div><div class="b" style="left:286.9px;top:409.3px;width:3.5px;height:3.5px;background:#f0a030;border-radius:1px"></div><div class="b" style="left:291.9px;top:410.3px;width:8.0px;height:1.6px;background:rgba(40,40,40,0.55);"></div><div class="b" style="left:286.9px;top:412.0px;width:14.1px;height:1.5px;background:rgba(90,90,110,0.3);"></div><div class="b" style="left:176.0px;top:453.4px;width:38.0px;height:11.2px;background:#ffffff;border-radius:1.5px;box-shadow:0 0 1px rgba(0,0,0,0.2)"></div><div class="b" style="left:178.0px;top:455.4px;width:3.5px;height:3.5px;background:#f0a030;border-radius:1px"></div><div class="b" style="left:183.0px;top:456.4px;width:8.0px;height:1.6px;background:rgba(40,40,40,0.55);"></div><div class="b" style="left:178.0px;top:460.6px;width:30.0px;height:1.5px;background:rgba(90,90,110,0.3);"></div><div class="b" style="left:86.0px;top:432.6px;width:25.0px;height:23.4px;background:#fafbfb;box-shadow:0.5px 0 1px rgba(0,0,0,0.08)"></div><div class="b" style="left:87.5px;top:437.0px;width:4.5px;height:1.2px;background:rgba(80,80,80,0.3);"></div><div class="b" style="left:87.5px;top:445.0px;width:4.5px;height:1.2px;background:rgba(80,80,80,0.3);"></div><div class="b" style="left:87.5px;top:450.5px;width:4.5px;height:1.2px;background:rgba(80,80,80,0.3);"></div><div class="b" style="left:90.0px;top:447.0px;width:16.0px;height:6.0px;background:#eef0f1;"></div><div class="b" style="left:107.0px;top:441.5px;width:1.5px;height:1.2px;background:rgba(80,80,80,0.35);"></div><div class="b" style="left:107.0px;top:447.0px;width:1.5px;height:1.2px;background:rgba(80,80,80,0.35);"></div><div class="b" style="left:107.0px;top:452.0px;width:1.5px;height:1.2px;background:rgba(80,80,80,0.35);"></div><div class="b" style="left:86.0px;top:456.0px;width:79.0px;height:5.2px;background:#fbfcfc;box-shadow:0 0 1px rgba(0,0,0,0.1)"></div><div class="b" style="left:92.0px;top:458.0px;width:2.0px;height:1.4px;background:rgba(80,80,80,0.35);"></div><div class="b" style="left:100.0px;top:458.0px;width:2.0px;height:1.4px;background:rgba(80,80,80,0.35);"></div><div class="b" style="left:110.0px;top:458.0px;width:2.0px;height:1.4px;background:rgba(80,80,80,0.35);"></div><div class="b" style="left:118.0px;top:458.0px;width:2.0px;height:1.4px;background:rgba(80,80,80,0.35);"></div><div class="b" style="left:126.0px;top:458.0px;width:2.0px;height:1.4px;background:rgba(80,80,80,0.35);"></div><div class="b" style="left:134.0px;top:458.0px;width:2.0px;height:1.4px;background:rgba(80,80,80,0.35);"></div><div class="b" style="left:142.0px;top:458.0px;width:2.0px;height:1.4px;background:rgba(80,80,80,0.35);"></div><div class="b" style="left:150.0px;top:458.0px;width:2.0px;height:1.4px;background:rgba(80,80,80,0.35);"></div><div class="b" style="left:158.0px;top:458.0px;width:2.0px;height:1.4px;background:rgba(80,80,80,0.35);"></div><div class="b" style="left:148.0px;top:457.2px;width:2.0px;height:3.0px;background:#5a8ae8;"></div><div class="b" style="left:307.3px;top:341.0px;width:70.7px;height:122.3px;background:#ffffff;box-shadow:-0.5px 0 1.5px rgba(0,0,0,0.1)"></div><div class="b" style="left:309.0px;top:344.0px;width:13.0px;height:2.5px;background:rgba(40,40,40,0.5);"></div><div class="b" style="left:309.5px;top:349.5px;width:4.0px;height:1.5px;background:rgba(80,80,80,0.35);"></div><div class="b" style="left:316.5px;top:349.5px;width:4.0px;height:1.5px;background:rgba(80,80,80,0.35);"></div><div class="b" style="left:323.5px;top:349.5px;width:4.0px;height:1.5px;background:rgba(80,80,80,0.35);"></div><div class="b" style="left:330.5px;top:349.5px;width:4.0px;height:1.5px;background:rgba(80,80,80,0.35);"></div><div class="b" style="left:309.5px;top:352.5px;width:4.0px;height:0.5px;background:#3f7fe8;"></div><div class="b" style="left:309.5px;top:356.5px;width:6.5px;height:1.7px;background:rgba(40,40,40,0.45);"></div><div class="b" style="left:309.5px;top:360.5px;width:66.5px;height:3.0px;background:#f3f5f6;"></div><div class="b" style="left:309.5px;top:366.0px;width:66.5px;height:7.0px;background:#ffffff;border:0.5px solid #e5e7e8"></div><div class="b" style="left:311.5px;top:367.5px;width:22.5px;height:1.5px;background:rgba(40,40,40,0.45);"></div><div class="b" style="left:311.5px;top:370.5px;width:18.5px;height:1.2px;background:rgba(80,80,80,0.3);"></div><div class="b" style="left:309.5px;top:376.0px;width:15.5px;height:1.8px;background:rgba(40,40,40,0.45);"></div><div class="b" style="left:309.5px;top:379.5px;width:66.5px;height:3.5px;background:#f3f5f6;"></div><div class="b" style="left:309.9px;top:385.0px;width:66.1px;height:4.7px;background:#2d6be6;border-radius:1px"></div><div class="b" style="left:330.0px;top:453.5px;width:22.0px;height:1.5px;background:rgba(90,90,90,0.3);"></div><div class="b" style="left:330.0px;top:456.5px;width:28.0px;height:1.5px;background:rgba(90,90,90,0.25);"></div><div class="b" style="left:365.0px;top:450.5px;width:9.0px;height:9.0px;border-radius:50%;background:#f4efe8;box-shadow:0 0 1px rgba(100,60,40,0.5)"></div><div class="b" style="left:365.0px;top:461.0px;width:12.0px;height:2.3px;background:#5cc070;"></div>
<div class="b" style="left:254.2px;top:135.0px;width:94.5px;height:135.5px;background:#f8dcdc;border:1px solid #707070;border-radius:0px;"></div><div class="b" style="left:427.5px;top:307.5px;width:103.2px;height:137.2px;background:#fbf8e8;border:1px solid #5d5d5d;border-radius:0px;border-color:#6a6a6a #8c8c8c #4a4a4a #505050"></div><div class="b" style="left:698.5px;top:31.5px;width:104.0px;height:125.7px;background:#fbf8e8;border:1px solid #5d5d5d;border-radius:0px;border-color:#6a6a6a #8c8c8c #4a4a4a #505050"></div><div class="b" style="left:643.0px;top:258.0px;width:211.5px;height:48.2px;background:#f8dcdc;border:1px solid #6a6a6a;border-radius:0px;"></div><div class="b" style="left:26.0px;top:67.2px;width:45.0px;height:22.6px;background:#fbf8e8;border:1px solid #6b6b6b;border-radius:10px;"></div><div class="b" style="left:25.5px;top:129.5px;width:46.2px;height:31.3px;background:#96d86c;border:1px solid #5f8a52;border-radius:0px;"></div><svg class="b" style="left:0;top:0" width="979" height="471"><polygon points="48.150000000000006,191.6 69.2,206.7 48.150000000000006,221.8 27.1,206.7" fill="#e0cd6c" stroke="#7d6e38" stroke-width="1"/></svg><div class="b" style="left:27.0px;top:249.2px;width:42.5px;height:24.2px;background:#a8a8a8;border:1px solid #5e5e5e;border-radius:0px;"></div><div class="b" style="left:130.5px;top:193.8px;width:42.8px;height:24.2px;background:#d4d6f8;border:1px solid #5a5a6a;border-radius:0px;"></div><div class="b" style="left:281.8px;top:148.5px;width:44.0px;height:19.5px;background:#ffffff;border:1px solid #4e4e4e;border-radius:0px;"></div><div class="b" style="left:281.8px;top:196.2px;width:44.0px;height:20.5px;background:#ffffff;border:1px solid #4e4e4e;border-radius:0px;"></div><div class="b" style="left:281.8px;top:240.8px;width:44.0px;height:19.2px;background:#ffffff;border:1px solid #4e4e4e;border-radius:0px;"></div><div class="b" style="left:381.2px;top:61.2px;width:52.0px;height:26.2px;background:#daf3f3;border:1px solid #5d6a6a;border-radius:0px;border-color:#6a7474 #8a9898 #5a6464 #4e5a5a"></div><div class="b" style="left:381.2px;top:103.2px;width:52.0px;height:26.8px;background:#daf3f3;border:1px solid #5d6a6a;border-radius:0px;border-color:#6a7474 #8a9898 #5a6464 #4e5a5a"></div><div class="b" style="left:381.2px;top:144.5px;width:52.0px;height:26.8px;background:#daf3f3;border:1px solid #5d6a6a;border-radius:0px;border-color:#6a7474 #8a9898 #5a6464 #4e5a5a"></div><div class="b" style="left:453.0px;top:270.5px;width:57.0px;height:23.8px;background:#daf3f3;border:1px solid #5d6a6a;border-radius:0px;border-color:#6a7474 #8a9898 #5a6464 #4e5a5a"></div><div class="b" style="left:453.0px;top:322.5px;width:57.0px;height:23.8px;background:#daf3f3;border:1px solid #5d6a6a;border-radius:0px;border-color:#6a7474 #8a9898 #5a6464 #4e5a5a"></div><div class="b" style="left:453.0px;top:363.0px;width:57.0px;height:24.2px;background:#daf3f3;border:1px solid #5d6a6a;border-radius:0px;border-color:#6a7474 #8a9898 #5a6464 #4e5a5a"></div><div class="b" style="left:453.0px;top:403.0px;width:57.0px;height:24.2px;background:#daf3f3;border:1px solid #5d6a6a;border-radius:0px;border-color:#6a7474 #8a9898 #5a6464 #4e5a5a"></div><div class="b" style="left:556.8px;top:360.5px;width:75.8px;height:31.2px;background:#daf3f3;border:1px solid #4e5656;border-radius:0px;"></div><div class="b" style="left:649.2px;top:364.5px;width:47.5px;height:23.5px;background:#ec76b4;border:1px solid #7a5a6e;border-radius:0px;"></div><div class="b" style="left:728.8px;top:363.2px;width:42.5px;height:25.5px;background:#d4d6f8;border:1px solid #5a5a6a;border-radius:0px;"></div><div class="b" style="left:721.2px;top:325.0px;width:58.0px;height:23.8px;background:#daf3f3;border:1px solid #5d6a6a;border-radius:0px;border-color:#6a7474 #8a9898 #5a6464 #4e5a5a"></div><div class="b" style="left:654.2px;top:272.5px;width:57.5px;height:24.2px;background:#daf3f3;border:1px solid #5d6a6a;border-radius:0px;border-color:#6a7474 #8a9898 #5a6464 #4e5a5a"></div><div class="b" style="left:721.2px;top:272.5px;width:58.0px;height:24.2px;background:#daf3f3;border:1px solid #5d6a6a;border-radius:0px;border-color:#6a7474 #8a9898 #5a6464 #4e5a5a"></div><div class="b" style="left:790.0px;top:272.5px;width:58.0px;height:24.2px;background:#daf3f3;border:1px solid #5d6a6a;border-radius:0px;border-color:#6a7474 #8a9898 #5a6464 #4e5a5a"></div><div class="b" style="left:721.2px;top:215.0px;width:57.5px;height:24.2px;background:#daf3f3;border:1px solid #5d6a6a;border-radius:0px;border-color:#6a7474 #8a9898 #5a6464 #4e5a5a"></div><div class="b" style="left:721.2px;top:177.5px;width:57.5px;height:23.8px;background:#daf3f3;border:1px solid #5d6a6a;border-radius:0px;border-color:#6a7474 #8a9898 #5a6464 #4e5a5a"></div><div class="b" style="left:722.0px;top:37.5px;width:57.2px;height:23.8px;background:#daf3f3;border:1px solid #5d6a6a;border-radius:0px;border-color:#6a7474 #8a9898 #5a6464 #4e5a5a"></div><div class="b" style="left:722.0px;top:75.8px;width:57.2px;height:24.2px;background:#daf3f3;border:1px solid #5d6a6a;border-radius:0px;border-color:#6a7474 #8a9898 #5a6464 #4e5a5a"></div><div class="b" style="left:722.0px;top:117.5px;width:57.2px;height:23.8px;background:#daf3f3;border:1px solid #5d6a6a;border-radius:0px;border-color:#6a7474 #8a9898 #5a6464 #4e5a5a"></div><div class="b" style="left:821.0px;top:9.5px;width:74.5px;height:31.0px;background:#daf3f3;border:1px solid #4e5656;border-radius:0px;"></div><svg class="b" style="left:0;top:0" width="979" height="471"><polygon points="858.125,61.7 878.75,76.75 858.125,91.8 837.5,76.75" fill="#e0cd6c" stroke="#7d6e38" stroke-width="1"/></svg><div class="b" style="left:924.2px;top:64.8px;width:44.1px;height:23.4px;background:#fbf8e8;border:1px solid #6b6b6b;border-radius:10px;"></div><div class="b" style="left:834.2px;top:121.8px;width:47.5px;height:23.8px;background:#ec76b4;border:1px solid #7a5a6e;border-radius:0px;"></div><div class="b" style="left:729.0px;top:432.3px;width:42.5px;height:24.7px;background:#fbf8e8;border:1px solid #6b6b6b;border-radius:10px;"></div>
<svg class="b" style="left:0;top:0" width="979" height="471"><g fill="none" stroke="#666666" stroke-width="1"><path d="M48.50,89.50 L48.50,129.50"/><path d="M48.50,160.80 L48.50,191.25"/><path d="M48.50,221.00 L48.50,249.25"/><path d="M69.50,206.00 L130.50,206.00"/><path d="M173.25,206.00 L205.00,206.00"/><path d="M251.00,206.00 L266.00,206.00"/><path d="M266.00,158.00 L266.00,250.00"/><path d="M266.00,158.00 L281.75,158.00"/><path d="M266.00,250.00 L281.75,250.00"/><path d="M325.75,158.00 L359.50,158.00 L359.50,74.25 L381.25,74.25"/><path d="M407.00,87.50 L407.00,103.25"/><path d="M407.00,130.00 L407.00,144.50"/><path d="M480.75,249.50 L480.75,270.50"/><path d="M481.00,294.25 L481.00,322.50"/><path d="M481.00,346.25 L481.00,363.00"/><path d="M481.00,387.25 L481.00,403.00"/><path d="M530.75,375.50 L556.75,375.50"/><path d="M632.50,376.00 L649.25,376.00"/><path d="M696.75,376.00 L728.75,376.00"/><path d="M750.00,363.25 L750.00,348.75"/><path d="M721.25,337.00 L683.00,337.00 L683.00,296.75"/><path d="M779.25,337.00 L814.25,337.00 L814.25,296.75"/><path d="M750.00,325.00 L750.00,296.75"/><path d="M750.00,258.00 L750.00,239.25"/><path d="M750.00,215.00 L750.00,201.25"/><path d="M750.00,177.50 L750.00,141.25"/><path d="M750.00,117.50 L750.00,100.00"/><path d="M750.00,75.75 L750.00,61.25"/><path d="M750.00,31.75 L750.00,25.00 L821.00,25.00"/><path d="M858.00,40.50 L858.00,61.70"/><path d="M878.75,76.75 L924.50,76.75"/><path d="M858.00,91.80 L858.00,121.75"/><path d="M881.75,133.80 L946.00,133.80 L946.00,88.00"/><path d="M750.00,388.75 L750.00,432.50"/></g><g fill="#363636"><polygon points="48.50,130.20 46.20,124.60 48.50,125.20 50.80,124.60"/><polygon points="48.50,191.95 46.20,186.35 48.50,186.95 50.80,186.35"/><polygon points="48.50,249.95 46.20,244.35 48.50,244.95 50.80,244.35"/><polygon points="131.20,206.00 125.60,208.30 126.20,206.00 125.60,203.70"/><polygon points="205.70,206.00 200.10,208.30 200.70,206.00 200.10,203.70"/><polygon points="282.45,158.00 276.85,160.30 277.45,158.00 276.85,155.70"/><polygon points="282.45,250.00 276.85,252.30 277.45,250.00 276.85,247.70"/><polygon points="381.95,74.25 376.35,76.55 376.95,74.25 376.35,71.95"/><polygon points="407.00,103.95 404.70,98.35 407.00,98.95 409.30,98.35"/><polygon points="407.00,145.20 404.70,139.60 407.00,140.20 409.30,139.60"/><polygon points="480.75,271.20 478.45,265.60 480.75,266.20 483.05,265.60"/><polygon points="481.00,323.20 478.70,317.60 481.00,318.20 483.30,317.60"/><polygon points="481.00,363.70 478.70,358.10 481.00,358.70 483.30,358.10"/><polygon points="481.00,403.70 478.70,398.10 481.00,398.70 483.30,398.10"/><polygon points="557.45,375.50 551.85,377.80 552.45,375.50 551.85,373.20"/><polygon points="649.95,376.00 644.35,378.30 644.95,376.00 644.35,373.70"/><polygon points="729.45,376.00 723.85,378.30 724.45,376.00 723.85,373.70"/><polygon points="750.00,348.05 752.30,353.65 750.00,353.05 747.70,353.65"/><polygon points="683.00,296.05 685.30,301.65 683.00,301.05 680.70,301.65"/><polygon points="814.25,296.05 816.55,301.65 814.25,301.05 811.95,301.65"/><polygon points="750.00,296.05 752.30,301.65 750.00,301.05 747.70,301.65"/><polygon points="750.00,238.55 752.30,244.15 750.00,243.55 747.70,244.15"/><polygon points="750.00,200.55 752.30,206.15 750.00,205.55 747.70,206.15"/><polygon points="750.00,140.55 752.30,146.15 750.00,145.55 747.70,146.15"/><polygon points="750.00,99.30 752.30,104.90 750.00,104.30 747.70,104.90"/><polygon points="750.00,60.55 752.30,66.15 750.00,65.55 747.70,66.15"/><polygon points="821.70,25.00 816.10,27.30 816.70,25.00 816.10,22.70"/><polygon points="858.00,62.40 855.70,56.80 858.00,57.40 860.30,56.80"/><polygon points="925.20,76.75 919.60,79.05 920.20,76.75 919.60,74.45"/><polygon points="858.00,122.45 855.70,116.85 858.00,117.45 860.30,116.85"/><polygon points="946.00,87.30 948.30,92.90 946.00,92.30 943.70,92.90"/><polygon points="750.00,433.20 747.70,427.60 750.00,428.20 752.30,427.60"/></g></svg>
<div class="b" style="left:80.2px;top:198.3px;width:41.1px;height:16.4px;background:#fff"></div><div class="b" style="left:207.4px;top:199.2px;width:41.1px;height:16.4px;background:#fff"></div><div class="b" style="left:13.5px;top:229.2px;width:70.5px;height:9.2px;background:#fff"></div><div class="b" style="left:457.8px;top:297.1px;width:46.4px;height:9.2px;background:#fff"></div><div class="b" style="left:732.1px;top:160.9px;width:35.8px;height:9.2px;background:#fff"></div><div class="b" style="left:886.9px;top:68.3px;width:25.2px;height:16.4px;background:#fff"></div><div class="b" style="left:845.4px;top:97.8px;width:25.2px;height:16.4px;background:#fff"></div><div class="b" style="left:737.9px;top:400.3px;width:25.2px;height:16.4px;background:#fff"></div>
<svg class="b" style="left:0;top:0" width="979" height="471"><path d="M442,170 Q447,170 447,176 L447,200 Q447,206 452,206 Q447,206 447,212 L447,236 Q447,242 442,242" fill="none" stroke="#555" stroke-width="1"/></svg>
<svg class="b" style="left:0;top:0" width="979" height="471"><path d="M32.04 77.70L36.63 77.70M34.33 77.70L32.50 82.08M34.33 77.70L36.17 82.08M32.95 80.02L35.71 80.02M37.64 77.95L42.23 77.95M38.10 79.76L41.77 79.76M37.64 81.56L42.23 81.56M39.93 76.92L39.93 82.08M38.55 80.02L38.10 81.82M43.70 77.18L43.70 81.82M43.70 77.18L47.37 77.18M47.37 77.18L47.37 81.82M43.70 78.73L47.37 78.73M43.70 80.27L47.37 80.27M43.70 81.82L47.37 81.82M48.84 77.44L53.43 77.44M48.84 79.50L53.43 79.50M48.84 81.56L53.43 81.56M49.52 77.44L49.52 81.56M52.74 77.44L52.74 81.56M55.35 76.92L55.35 82.08M54.44 78.47L56.27 78.47M56.73 77.70L59.03 77.70M56.73 79.76L59.03 79.76M56.96 77.70L56.96 81.82M58.80 77.70L58.80 81.82M56.96 81.82L58.80 81.82M60.95 76.92L60.95 82.08M60.04 78.47L61.87 78.47M62.33 77.70L64.63 77.70M62.33 79.76L64.63 79.76M62.56 77.70L62.56 81.82M64.40 77.70L64.40 81.82M62.56 81.82L64.40 81.82M32.14 140.85L36.73 140.85M34.43 140.85L32.60 145.23M34.43 140.85L36.27 145.23M33.05 143.17L35.81 143.17M37.74 140.59L42.33 140.59M37.74 142.65L42.33 142.65M37.74 144.71L42.33 144.71M38.42 140.59L38.42 144.71M41.64 140.59L41.64 144.71M43.80 140.59L47.47 140.59M45.63 140.59L45.63 142.39M43.34 142.39L47.93 142.39M44.25 143.42L47.01 143.42M44.25 143.42L44.25 145.23M47.01 143.42L47.01 145.23M44.25 145.23L47.01 145.23M48.94 140.59L53.53 140.59M48.94 142.65L53.53 142.65M48.94 144.71L53.53 144.71M49.62 140.59L49.62 144.71M52.84 140.59L52.84 144.71M55.45 140.07L55.45 145.23M54.54 141.62L56.37 141.62M56.83 140.85L59.13 140.85M56.83 142.91L59.13 142.91M57.06 140.85L57.06 144.97M58.90 140.85L58.90 144.97M57.06 144.97L58.90 144.97M60.60 140.33L60.60 144.97M60.60 140.33L64.27 140.33M64.27 140.33L64.27 144.97M60.60 141.88L64.27 141.88M60.60 143.42L64.27 143.42M60.60 144.97L64.27 144.97M38.20 147.33L38.20 151.97M38.20 147.33L41.87 147.33M41.87 147.33L41.87 151.97M38.20 148.88L41.87 148.88M38.20 150.42L41.87 150.42M38.20 151.97L41.87 151.97M44.25 147.07L44.25 152.23M43.34 148.62L45.17 148.62M45.63 147.85L47.93 147.85M45.63 149.91L47.93 149.91M45.86 147.85L45.86 151.97M47.70 147.85L47.70 151.97M45.86 151.97L47.70 151.97M49.40 147.59L53.07 147.59M51.23 147.59L51.23 149.39M48.94 149.39L53.53 149.39M49.85 150.42L52.61 150.42M49.85 150.42L49.85 152.23M52.61 150.42L52.61 152.23M49.85 152.23L52.61 152.23M55.45 147.07L55.45 152.23M54.54 148.62L56.37 148.62M56.83 147.85L59.13 147.85M56.83 149.91L59.13 149.91M57.06 147.85L57.06 151.97M58.90 147.85L58.90 151.97M57.06 151.97L58.90 151.97M36.09 201.84L34.70 204.08M34.70 204.08L36.09 206.32M38.34 201.84L38.34 206.32M40.37 201.74L44.96 201.74M40.37 203.80L44.96 203.80M40.37 205.86L44.96 205.86M41.05 201.74L41.05 205.86M44.27 201.74L44.27 205.86M46.88 201.22L46.88 206.38M45.97 202.77L47.80 202.77M48.26 202.00L50.56 202.00M48.26 204.06L50.56 204.06M48.49 202.00L48.49 206.12M50.33 202.00L50.33 206.12M48.49 206.12L50.33 206.12M52.03 201.74L55.70 201.74M53.86 201.74L53.86 203.54M51.57 203.54L56.16 203.54M52.48 204.57L55.24 204.57M52.48 204.57L52.48 206.38M55.24 204.57L55.24 206.38M52.48 206.38L55.24 206.38M57.17 201.74L61.76 201.74M57.17 203.80L61.76 203.80M57.17 205.86L61.76 205.86M57.85 201.74L57.85 205.86M61.07 201.74L61.07 205.86M43.35 208.48L43.35 213.12M43.35 208.48L47.02 208.48M47.02 208.48L47.02 213.12M43.35 210.03L47.02 210.03M43.35 211.57L47.02 211.57M43.35 213.12L47.02 213.12M48.49 208.74L53.08 208.74M48.49 210.80L53.08 210.80M48.49 212.86L53.08 212.86M49.17 208.74L49.17 212.86M52.39 208.74L52.39 212.86M37.85 256.81L41.52 256.81M39.68 256.81L39.68 258.62M37.39 258.62L41.98 258.62M38.30 259.65L41.06 259.65M38.30 259.65L38.30 261.45M41.06 259.65L41.06 261.45M38.30 261.45L41.06 261.45M42.99 256.81L47.58 256.81M42.99 258.88L47.58 258.88M42.99 260.94L47.58 260.94M43.67 256.81L43.67 260.94M46.89 256.81L46.89 260.94M48.59 257.33L53.18 257.33M49.05 259.13L52.72 259.13M48.59 260.94L53.18 260.94M50.88 256.30L50.88 261.45M49.50 259.39L49.05 261.19M55.33 256.30L55.33 261.45M54.19 258.10L56.25 258.10M56.94 256.56L56.94 260.94M56.94 256.56L58.78 256.56M58.78 256.56L58.78 261.19M56.94 258.88L58.78 258.88M56.25 261.19L58.78 261.19M43.45 263.56L43.45 268.19M43.45 263.56L47.12 263.56M47.12 263.56L47.12 268.19M43.45 265.10L47.12 265.10M43.45 266.65L47.12 266.65M43.45 268.19L47.12 268.19M48.59 264.33L53.18 264.33M49.05 266.13L52.72 266.13M48.59 267.94L53.18 267.94M50.88 263.30L50.88 268.45M49.50 266.39L49.05 268.19M145.41 201.41L144.03 203.66M144.03 203.66L145.41 205.89M146.55 205.89L147.66 201.41M147.66 201.41L148.77 205.89M147.11 204.10L148.22 204.10M150.84 200.80L150.84 205.95M149.69 202.60L151.76 202.60M152.45 201.06L152.45 205.44M152.45 201.06L154.28 201.06M154.28 201.06L154.28 205.69M152.45 203.37L154.28 203.37M151.76 205.69L154.28 205.69M155.29 201.83L159.88 201.83M155.75 203.63L159.42 203.63M155.29 205.44L159.88 205.44M157.59 200.80L157.59 205.95M156.21 203.89L155.75 205.69M141.93 207.80L141.93 212.95M141.01 209.34L142.85 209.34M143.31 208.57L145.60 208.57M143.31 210.63L145.60 210.63M143.54 208.57L143.54 212.69M145.37 208.57L145.37 212.69M143.54 212.69L145.37 212.69M147.07 208.31L150.74 208.31M148.91 208.31L148.91 210.12M146.61 210.12L151.20 210.12M147.53 211.15L150.28 211.15M147.53 211.15L147.53 212.95M150.28 211.15L150.28 212.95M147.53 212.95L150.28 212.95M152.21 208.57L156.80 208.57M154.51 208.57L152.67 212.95M154.51 208.57L156.34 212.95M153.13 210.89L155.88 210.89M158.73 207.80L158.73 212.95M157.81 209.34L159.65 209.34M160.11 208.57L162.40 208.57M160.11 210.63L162.40 210.63M160.34 208.57L160.34 212.69M162.17 208.57L162.17 212.69M160.34 212.69L162.17 212.69M288.20 156.67L288.20 161.83M287.29 158.22L289.12 158.22M289.58 157.45L291.88 157.45M289.58 159.51L291.88 159.51M289.81 157.45L289.81 161.57M291.65 157.45L291.65 161.57M289.81 161.57L291.65 161.57M292.89 157.19L297.48 157.19M292.89 159.25L297.48 159.25M292.89 161.31L297.48 161.31M293.57 157.19L293.57 161.31M296.79 157.19L296.79 161.31M298.95 157.19L302.62 157.19M300.78 157.19L300.78 158.99M298.49 158.99L303.08 158.99M299.40 160.02L302.16 160.02M299.40 160.02L299.40 161.83M302.16 160.02L302.16 161.83M299.40 161.83L302.16 161.83M305.00 156.93L305.00 161.83M306.38 157.70L308.68 157.70M306.38 159.25L308.68 159.25M306.38 160.80L308.68 160.80M307.53 157.70L307.53 161.83M304.09 159.25L305.69 159.25M310.15 156.93L310.15 161.57M310.15 156.93L313.82 156.93M313.82 156.93L313.82 161.57M310.15 158.48L313.82 158.48M310.15 160.02L313.82 160.02M310.15 161.57L313.82 161.57M315.29 157.45L319.88 157.45M317.58 157.45L315.75 161.83M317.58 157.45L319.42 161.83M316.20 159.77L318.96 159.77M288.20 205.18L288.20 210.08M289.58 205.95L291.88 205.95M289.58 207.50L291.88 207.50M289.58 209.05L291.88 209.05M290.73 205.95L290.73 210.08M287.29 207.50L288.89 207.50M293.80 205.18L293.80 210.08M295.18 205.95L297.48 205.95M295.18 207.50L297.48 207.50M295.18 209.05L297.48 209.05M296.33 205.95L296.33 210.08M292.89 207.50L294.49 207.50M298.49 205.70L303.08 205.70M300.78 205.70L298.95 210.08M300.78 205.70L302.62 210.08M299.40 208.02L302.16 208.02M305.23 204.92L305.23 210.08M304.09 206.73L306.15 206.73M306.84 205.18L306.84 209.56M306.84 205.18L308.68 205.18M308.68 205.18L308.68 209.82M306.84 207.50L308.68 207.50M306.15 209.82L308.68 209.82M310.15 205.44L313.82 205.44M311.98 205.44L311.98 207.24M309.69 207.24L314.28 207.24M310.60 208.27L313.36 208.27M310.60 208.27L310.60 210.08M313.36 208.27L313.36 210.08M310.60 210.08L313.36 210.08M315.29 205.95L319.88 205.95M315.75 207.76L319.42 207.76M315.29 209.56L319.88 209.56M317.58 204.92L317.58 210.08M316.20 208.02L315.75 209.82M287.75 249.31L291.42 249.31M289.58 249.31L289.58 251.12M287.29 251.12L291.88 251.12M288.20 252.15L290.96 252.15M288.20 252.15L288.20 253.95M290.96 252.15L290.96 253.95M288.20 253.95L290.96 253.95M293.80 248.80L293.80 253.95M292.89 250.34L294.72 250.34M295.18 249.57L297.48 249.57M295.18 251.63L297.48 251.63M295.41 249.57L295.41 253.69M297.25 249.57L297.25 253.69M295.41 253.69L297.25 253.69M299.63 248.80L299.63 253.95M298.49 250.60L300.55 250.60M301.24 249.06L301.24 253.44M301.24 249.06L303.08 249.06M303.08 249.06L303.08 253.69M301.24 251.37L303.08 251.37M300.55 253.69L303.08 253.69M305.00 249.06L305.00 253.95M306.38 249.83L308.68 249.83M306.38 251.37L308.68 251.37M306.38 252.92L308.68 252.92M307.53 249.83L307.53 253.95M304.09 251.37L305.69 251.37M309.69 249.57L314.28 249.57M311.98 249.57L310.15 253.95M311.98 249.57L313.82 253.95M310.60 251.89L313.36 251.89M316.20 249.06L316.20 253.95M317.58 249.83L319.88 249.83M317.58 251.37L319.88 251.37M317.58 252.92L319.88 252.92M318.73 249.83L318.73 253.95M315.29 251.37L316.89 251.37M389.13 69.30L389.13 74.45M387.99 71.10L390.05 71.10M390.74 69.56L390.74 73.94M390.74 69.56L392.58 69.56M392.58 69.56L392.58 74.19M390.74 71.88L392.58 71.88M390.05 74.19L392.58 74.19M394.50 69.30L394.50 74.45M393.59 70.84L395.42 70.84M395.88 70.07L398.18 70.07M395.88 72.13L398.18 72.13M396.11 70.07L396.11 74.19M397.95 70.07L397.95 74.19M396.11 74.19L397.95 74.19M400.10 69.30L400.10 74.45M399.19 70.84L401.02 70.84M401.48 70.07L403.78 70.07M401.48 72.13L403.78 72.13M401.71 70.07L401.71 74.19M403.55 70.07L403.55 74.19M401.71 74.19L403.55 74.19M405.25 69.56L405.25 74.19M405.25 69.56L408.92 69.56M408.92 69.56L408.92 74.19M405.25 71.10L408.92 71.10M405.25 72.65L408.92 72.65M405.25 74.19L408.92 74.19M410.39 70.33L414.98 70.33M410.85 72.13L414.52 72.13M410.39 73.94L414.98 73.94M412.68 69.30L412.68 74.45M411.30 72.39L410.85 74.19M415.99 70.07L420.58 70.07M418.28 70.07L416.45 74.45M418.28 70.07L420.12 74.45M416.90 72.39L419.66 72.39M421.59 70.33L426.18 70.33M422.05 72.13L425.72 72.13M421.59 73.94L426.18 73.94M423.88 69.30L423.88 74.45M422.50 72.39L422.05 74.19M392.96 76.56L392.96 81.45M394.34 77.33L396.64 77.33M394.34 78.88L396.64 78.88M394.34 80.42L396.64 80.42M395.49 77.33L395.49 81.45M392.05 78.88L393.65 78.88M398.70 76.92L398.70 81.40M400.73 76.81L405.32 76.81M400.73 78.88L405.32 78.88M400.73 80.94L405.32 80.94M401.41 76.81L401.41 80.94M404.63 76.81L404.63 80.94M407.24 76.30L407.24 81.45M406.33 77.84L408.16 77.84M408.62 77.07L410.92 77.07M408.62 79.13L410.92 79.13M408.85 77.07L408.85 81.19M410.69 77.07L410.69 81.19M408.85 81.19L410.69 81.19M411.93 77.07L416.52 77.07M414.22 77.07L412.39 81.45M414.22 77.07L416.06 81.45M412.84 79.39L415.60 79.39M417.53 77.07L422.12 77.07M419.82 77.07L417.99 81.45M419.82 77.07L421.66 81.45M418.44 79.39L421.20 79.39M387.99 112.32L392.58 112.32M390.28 112.32L388.45 116.70M390.28 112.32L392.12 116.70M388.90 114.64L391.66 114.64M394.50 111.81L394.50 116.70M395.88 112.58L398.18 112.58M395.88 114.12L398.18 114.12M395.88 115.67L398.18 115.67M397.03 112.58L397.03 116.70M393.59 114.12L395.19 114.12M400.10 111.81L400.10 116.70M401.48 112.58L403.78 112.58M401.48 114.12L403.78 114.12M401.48 115.67L403.78 115.67M402.63 112.58L402.63 116.70M399.19 114.12L400.79 114.12M405.70 111.55L405.70 116.70M404.79 113.09L406.62 113.09M407.08 112.32L409.38 112.32M407.08 114.38L409.38 114.38M407.31 112.32L407.31 116.44M409.15 112.32L409.15 116.44M407.31 116.44L409.15 116.44M411.30 111.55L411.30 116.70M410.39 113.09L412.22 113.09M412.68 112.32L414.98 112.32M412.68 114.38L414.98 114.38M412.91 112.32L412.91 116.44M414.75 112.32L414.75 116.44M412.91 116.44L414.75 116.44M417.13 111.55L417.13 116.70M415.99 113.35L418.05 113.35M418.74 111.81L418.74 116.19M418.74 111.81L420.58 111.81M420.58 111.81L420.58 116.44M418.74 114.12L420.58 114.12M418.05 116.44L420.58 116.44M422.50 111.81L422.50 116.70M423.88 112.58L426.18 112.58M423.88 114.12L426.18 114.12M423.88 115.67L426.18 115.67M425.03 112.58L425.03 116.70M421.59 114.12L423.19 114.12M391.70 118.55L391.70 123.70M390.79 120.09L392.62 120.09M393.08 119.32L395.38 119.32M393.08 121.38L395.38 121.38M393.31 119.32L393.31 123.44M395.15 119.32L395.15 123.44M393.31 123.44L395.15 123.44M396.39 119.06L400.98 119.06M396.39 121.12L400.98 121.12M396.39 123.19L400.98 123.19M397.07 119.06L397.07 123.19M400.29 119.06L400.29 123.19M403.13 118.55L403.13 123.70M401.99 120.35L404.05 120.35M404.74 118.81L404.74 123.19M404.74 118.81L406.58 118.81M406.58 118.81L406.58 123.44M404.74 121.12L406.58 121.12M404.05 123.44L406.58 123.44M408.50 118.81L408.50 123.70M409.88 119.58L412.18 119.58M409.88 121.12L412.18 121.12M409.88 122.67L412.18 122.67M411.03 119.58L411.03 123.70M407.59 121.12L409.19 121.12M414.33 118.55L414.33 123.70M413.19 120.35L415.25 120.35M415.94 118.81L415.94 123.19M415.94 118.81L417.78 118.81M417.78 118.81L417.78 123.44M415.94 121.12L417.78 121.12M415.25 123.44L417.78 123.44M419.25 118.81L419.25 123.44M419.25 118.81L422.92 118.81M422.92 118.81L422.92 123.44M419.25 120.35L422.92 120.35M419.25 121.90L422.92 121.90M419.25 123.44L422.92 123.44M390.79 157.07L395.38 157.07M393.08 157.07L391.25 161.45M393.08 157.07L394.92 161.45M391.70 159.39L394.46 159.39M396.39 156.81L400.98 156.81M396.39 158.87L400.98 158.87M396.39 160.94L400.98 160.94M397.07 156.81L397.07 160.94M400.29 156.81L400.29 160.94M402.90 156.56L402.90 161.45M404.28 157.33L406.58 157.33M404.28 158.87L406.58 158.87M404.28 160.42L406.58 160.42M405.43 157.33L405.43 161.45M401.99 158.87L403.59 158.87M407.59 157.07L412.18 157.07M409.88 157.07L408.05 161.45M409.88 157.07L411.72 161.45M408.50 159.39L411.26 159.39M413.19 157.33L417.78 157.33M413.65 159.13L417.32 159.13M413.19 160.94L417.78 160.94M415.48 156.30L415.48 161.45M414.10 159.39L413.65 161.19M419.70 156.30L419.70 161.45M418.79 157.84L420.62 157.84M421.08 157.07L423.38 157.07M421.08 159.13L423.38 159.13M421.31 157.07L421.31 161.19M423.15 157.07L423.15 161.19M421.31 161.19L423.15 161.19M460.35 277.56L460.35 282.45M461.73 278.33L464.03 278.33M461.73 279.88L464.03 279.88M461.73 281.42L464.03 281.42M462.88 278.33L462.88 282.45M459.44 279.88L461.04 279.88M465.04 277.81L469.63 277.81M465.04 279.88L469.63 279.88M465.04 281.94L469.63 281.94M465.72 277.81L465.72 281.94M468.94 277.81L468.94 281.94M471.10 277.81L474.77 277.81M472.93 277.81L472.93 279.62M470.64 279.62L475.23 279.62M471.55 280.65L474.31 280.65M471.55 280.65L471.55 282.45M474.31 280.65L474.31 282.45M471.55 282.45L474.31 282.45M477.38 277.30L477.38 282.45M476.24 279.10L478.30 279.10M478.99 277.56L478.99 281.94M478.99 277.56L480.83 277.56M480.83 277.56L480.83 282.19M478.99 279.88L480.83 279.88M478.30 282.19L480.83 282.19M481.84 278.33L486.43 278.33M482.30 280.13L485.97 280.13M481.84 281.94L486.43 281.94M484.13 277.30L484.13 282.45M482.75 280.39L482.30 282.19M487.90 277.81L491.57 277.81M489.73 277.81L489.73 279.62M487.44 279.62L492.03 279.62M488.35 280.65L491.11 280.65M488.35 280.65L488.35 282.45M491.11 280.65L491.11 282.45M488.35 282.45L491.11 282.45M493.50 277.56L493.50 282.19M493.50 277.56L497.17 277.56M497.17 277.56L497.17 282.19M493.50 279.10L497.17 279.10M493.50 280.65L497.17 280.65M493.50 282.19L497.17 282.19M499.10 277.56L499.10 282.19M499.10 277.56L502.77 277.56M502.77 277.56L502.77 282.19M499.10 279.10L502.77 279.10M499.10 280.65L502.77 280.65M499.10 282.19L502.77 282.19M463.15 284.56L463.15 289.45M464.53 285.33L466.83 285.33M464.53 286.88L466.83 286.88M464.53 288.42L466.83 288.42M465.68 285.33L465.68 289.45M462.24 286.88L463.84 286.88M468.75 284.30L468.75 289.45M467.84 285.84L469.67 285.84M470.13 285.07L472.43 285.07M470.13 287.13L472.43 287.13M470.36 285.07L470.36 289.19M472.20 285.07L472.20 289.19M470.36 289.19L472.20 289.19M473.44 285.33L478.03 285.33M473.90 287.13L477.57 287.13M473.44 288.94L478.03 288.94M475.73 284.30L475.73 289.45M474.35 287.39L473.90 289.19M479.95 284.56L479.95 289.45M481.33 285.33L483.63 285.33M481.33 286.88L483.63 286.88M481.33 288.42L483.63 288.42M482.48 285.33L482.48 289.45M479.04 286.88L480.64 286.88M485.10 284.56L485.10 289.19M485.10 284.56L488.77 284.56M488.77 284.56L488.77 289.19M485.10 286.10L488.77 286.10M485.10 287.65L488.77 287.65M485.10 289.19L488.77 289.19M491.38 284.30L491.38 289.45M490.24 286.10L492.30 286.10M492.99 284.56L492.99 288.94M492.99 284.56L494.83 284.56M494.83 284.56L494.83 289.19M492.99 286.88L494.83 286.88M492.30 289.19L494.83 289.19M495.84 285.33L500.43 285.33M496.30 287.13L499.97 287.13M495.84 288.94L500.43 288.94M498.13 284.30L498.13 289.45M496.75 287.39L496.30 289.19M459.90 333.06L459.90 337.69M459.90 333.06L463.57 333.06M463.57 333.06L463.57 337.69M459.90 334.60L463.57 334.60M459.90 336.15L463.57 336.15M459.90 337.69L463.57 337.69M466.18 332.80L466.18 337.95M465.04 334.60L467.10 334.60M467.79 333.06L467.79 337.44M467.79 333.06L469.63 333.06M469.63 333.06L469.63 337.69M467.79 335.38L469.63 335.38M467.10 337.69L469.63 337.69M471.10 333.06L471.10 337.69M471.10 333.06L474.77 333.06M474.77 333.06L474.77 337.69M471.10 334.60L474.77 334.60M471.10 336.15L474.77 336.15M471.10 337.69L474.77 337.69M476.24 333.57L480.83 333.57M478.53 333.57L476.70 337.95M478.53 333.57L480.37 337.95M477.15 335.89L479.91 335.89M482.30 333.06L482.30 337.69M482.30 333.06L485.97 333.06M485.97 333.06L485.97 337.69M482.30 334.60L485.97 334.60M482.30 336.15L485.97 336.15M482.30 337.69L485.97 337.69M487.90 333.31L491.57 333.31M489.73 333.31L489.73 335.12M487.44 335.12L492.03 335.12M488.35 336.15L491.11 336.15M488.35 336.15L488.35 337.95M491.11 336.15L491.11 337.95M488.35 337.95L491.11 337.95M493.04 333.83L497.63 333.83M493.50 335.63L497.17 335.63M493.04 337.44L497.63 337.44M495.33 332.80L495.33 337.95M493.95 335.89L493.50 337.69M499.55 332.80L499.55 337.95M498.64 334.34L500.47 334.34M500.93 333.57L503.23 333.57M500.93 335.63L503.23 335.63M501.16 333.57L501.16 337.69M503.00 333.57L503.00 337.69M501.16 337.69L503.00 337.69M459.10 375.14L460.21 370.66M460.21 370.66L461.31 375.14M459.65 373.35L460.76 373.35M462.18 375.14L463.29 370.66M463.29 370.66L464.39 375.14M462.73 373.35L463.84 373.35M465.78 370.56L469.45 370.56M467.61 370.56L467.61 372.37M465.32 372.37L469.91 372.37M466.23 373.40L468.99 373.40M466.23 373.40L466.23 375.20M468.99 373.40L468.99 375.20M466.23 375.20L468.99 375.20M471.38 370.56L475.05 370.56M473.21 370.56L473.21 372.37M470.92 372.37L475.51 372.37M471.83 373.40L474.59 373.40M471.83 373.40L471.83 375.20M474.59 373.40L474.59 375.20M471.83 375.20L474.59 375.20M476.52 370.56L481.11 370.56M476.52 372.62L481.11 372.62M476.52 374.69L481.11 374.69M477.20 370.56L477.20 374.69M480.42 370.56L480.42 374.69M483.03 370.31L483.03 375.20M484.41 371.08L486.71 371.08M484.41 372.62L486.71 372.62M484.41 374.17L486.71 374.17M485.56 371.08L485.56 375.20M482.12 372.62L483.72 372.62M487.72 371.08L492.31 371.08M488.18 372.88L491.85 372.88M487.72 374.69L492.31 374.69M490.01 370.05L490.01 375.20M488.63 373.14L488.18 374.94M494.46 370.05L494.46 375.20M493.32 371.85L495.38 371.85M496.07 370.31L496.07 374.69M496.07 370.31L497.91 370.31M497.91 370.31L497.91 374.94M496.07 372.62L497.91 372.62M495.38 374.94L497.91 374.94M500.06 370.05L500.06 375.20M498.92 371.85L500.98 371.85M501.67 370.31L501.67 374.69M501.67 370.31L503.51 370.31M503.51 370.31L503.51 374.94M501.67 372.62L503.51 372.62M500.98 374.94L503.51 374.94M476.24 377.56L480.83 377.56M476.24 379.62L480.83 379.62M476.24 381.69L480.83 381.69M476.92 377.56L476.92 381.69M480.14 377.56L480.14 381.69M481.84 378.08L486.43 378.08M482.30 379.88L485.97 379.88M481.84 381.69L486.43 381.69M484.13 377.05L484.13 382.20M482.75 380.14L482.30 381.94M459.90 413.81L459.90 418.44M459.90 413.81L463.57 413.81M463.57 413.81L463.57 418.44M459.90 415.35L463.57 415.35M459.90 416.90L463.57 416.90M459.90 418.44L463.57 418.44M465.04 414.32L469.63 414.32M467.33 414.32L465.50 418.70M467.33 414.32L469.17 418.70M465.95 416.64L468.71 416.64M470.64 414.32L475.23 414.32M472.93 414.32L471.10 418.70M472.93 414.32L474.77 418.70M471.55 416.64L474.31 416.64M476.24 414.58L480.83 414.58M476.70 416.38L480.37 416.38M476.24 418.19L480.83 418.19M478.53 413.55L478.53 418.70M477.15 416.64L476.70 418.44M481.84 414.06L486.43 414.06M481.84 416.12L486.43 416.12M481.84 418.19L486.43 418.19M482.52 414.06L482.52 418.19M485.74 414.06L485.74 418.19M488.35 413.81L488.35 418.70M489.73 414.58L492.03 414.58M489.73 416.12L492.03 416.12M489.73 417.67L492.03 417.67M490.88 414.58L490.88 418.70M487.44 416.12L489.04 416.12M493.50 413.81L493.50 418.44M493.50 413.81L497.17 413.81M497.17 413.81L497.17 418.44M493.50 415.35L497.17 415.35M493.50 416.90L497.17 416.90M493.50 418.44L497.17 418.44M499.10 413.81L499.10 418.44M499.10 413.81L502.77 413.81M502.77 413.81L502.77 418.44M499.10 415.35L502.77 415.35M499.10 416.90L502.77 416.90M499.10 418.44L502.77 418.44M573.02 371.31L573.02 375.94M573.02 371.31L576.69 371.31M576.69 371.31L576.69 375.94M573.02 372.85L576.69 372.85M573.02 374.40L576.69 374.40M573.02 375.94L576.69 375.94M578.62 371.31L578.62 375.94M578.62 371.31L582.29 371.31M582.29 371.31L582.29 375.94M578.62 372.85L582.29 372.85M578.62 374.40L582.29 374.40M578.62 375.94L582.29 375.94M584.68 371.05L584.68 376.20M583.76 372.59L585.60 372.59M586.06 371.82L588.35 371.82M586.06 373.88L588.35 373.88M586.29 371.82L586.29 375.94M588.12 371.82L588.12 375.94M586.29 375.94L588.12 375.94M590.28 371.31L590.28 376.20M591.66 372.08L593.95 372.08M591.66 373.62L593.95 373.62M591.66 375.17L593.95 375.17M592.81 372.08L592.81 376.20M589.36 373.62L590.97 373.62M595.42 371.31L595.42 375.94M595.42 371.31L599.09 371.31M599.09 371.31L599.09 375.94M595.42 372.85L599.09 372.85M595.42 374.40L599.09 374.40M595.42 375.94L599.09 375.94M600.56 371.56L605.15 371.56M600.56 373.62L605.15 373.62M600.56 375.69L605.15 375.69M601.25 371.56L601.25 375.69M604.46 371.56L604.46 375.69M606.62 371.56L610.29 371.56M608.46 371.56L608.46 373.37M606.16 373.37L610.75 373.37M607.08 374.40L609.83 374.40M607.08 374.40L607.08 376.20M609.83 374.40L609.83 376.20M607.08 376.20L609.83 376.20M612.68 371.05L612.68 376.20M611.76 372.59L613.60 372.59M614.06 371.82L616.35 371.82M614.06 373.88L616.35 373.88M614.29 371.82L614.29 375.94M616.12 371.82L616.12 375.94M614.29 375.94L616.12 375.94M568.59 377.82Q566.90 380.62 568.59 383.43M570.22 378.56L573.89 378.56M572.06 378.56L572.06 380.37M569.76 380.37L574.35 380.37M570.68 381.40L573.43 381.40M570.68 381.40L570.68 383.20M573.43 381.40L573.43 383.20M570.68 383.20L573.43 383.20M576.28 378.31L576.28 383.20M577.66 379.08L579.95 379.08M577.66 380.62L579.95 380.62M577.66 382.17L579.95 382.17M578.80 379.08L578.80 383.20M575.36 380.62L576.97 380.62M580.96 379.08L585.55 379.08M581.42 380.88L585.09 380.88M580.96 382.69L585.55 382.69M583.26 378.05L583.26 383.20M581.88 381.14L581.42 382.94M587.48 378.05L587.48 383.20M586.56 379.59L588.40 379.59M588.86 378.82L591.15 378.82M588.86 380.88L591.15 380.88M589.09 378.82L589.09 382.94M590.92 378.82L590.92 382.94M589.09 382.94L590.92 382.94M592.16 378.82L596.75 378.82M594.46 378.82L592.62 383.20M594.46 378.82L596.29 383.20M593.08 381.14L595.83 381.14M597.76 378.56L602.35 378.56M597.76 380.62L602.35 380.62M597.76 382.69L602.35 382.69M598.45 378.56L598.45 382.69M601.66 378.56L601.66 382.69M604.28 378.05L604.28 383.20M603.36 379.59L605.20 379.59M605.66 378.82L607.95 378.82M605.66 380.88L607.95 380.88M605.89 378.82L605.89 382.94M607.72 378.82L607.72 382.94M605.89 382.94L607.72 382.94M608.96 378.56L613.55 378.56M608.96 380.62L613.55 380.62M608.96 382.69L613.55 382.69M609.65 378.56L609.65 382.69M612.86 378.56L612.86 382.69M614.56 379.08L619.15 379.08M615.02 380.88L618.69 380.88M614.56 382.69L619.15 382.69M616.86 378.05L616.86 383.20M615.48 381.14L615.02 382.94M620.67 377.82Q622.35 380.62 620.67 383.43M658.14 375.29L656.75 377.53M656.75 377.53L658.14 379.77M659.28 379.77L660.39 375.29M660.39 375.29L661.49 379.77M659.83 377.98L660.94 377.98M662.42 375.45L667.01 375.45M664.71 375.45L662.88 379.83M664.71 375.45L666.55 379.83M663.33 377.77L666.09 377.77M668.02 375.19L672.61 375.19M668.02 377.25L672.61 377.25M668.02 379.31L672.61 379.31M668.70 375.19L668.70 379.31M671.92 375.19L671.92 379.31M674.53 374.67L674.53 379.83M673.62 376.22L675.45 376.22M675.91 375.45L678.21 375.45M675.91 377.51L678.21 377.51M676.14 375.45L676.14 379.57M677.98 375.45L677.98 379.57M676.14 379.57L677.98 379.57M679.68 375.19L683.35 375.19M681.51 375.19L681.51 376.99M679.22 376.99L683.81 376.99M680.13 378.02L682.89 378.02M680.13 378.02L680.13 379.83M682.89 378.02L682.89 379.83M680.13 379.83L682.89 379.83M685.28 374.93L685.28 379.57M685.28 374.93L688.95 374.93M688.95 374.93L688.95 379.57M685.28 376.48L688.95 376.48M685.28 378.02L688.95 378.02M685.28 379.57L688.95 379.57M736.00 379.52L737.11 375.04M737.11 375.04L738.21 379.52M736.55 377.73L737.66 377.73M741.02 375.04L739.63 377.28M739.63 377.28L741.02 379.52M743.36 374.42L743.36 379.58M742.22 376.23L744.28 376.23M744.97 374.68L744.97 379.06M744.97 374.68L746.81 374.68M746.81 374.68L746.81 379.32M744.97 377.00L746.81 377.00M744.28 379.32L746.81 379.32M747.82 375.20L752.41 375.20M750.11 375.20L748.28 379.58M750.11 375.20L751.95 379.58M748.73 377.52L751.49 377.52M753.42 375.20L758.01 375.20M755.71 375.20L753.88 379.58M755.71 375.20L757.55 379.58M754.33 377.52L757.09 377.52M759.93 374.68L759.93 379.58M761.31 375.45L763.61 375.45M761.31 377.00L763.61 377.00M761.31 378.55L763.61 378.55M762.46 375.45L762.46 379.58M759.02 377.00L760.62 377.00M731.90 331.80L731.90 336.95M730.99 333.34L732.82 333.34M733.28 332.57L735.58 332.57M733.28 334.63L735.58 334.63M733.51 332.57L733.51 336.69M735.35 332.57L735.35 336.69M733.51 336.69L735.35 336.69M737.50 331.80L737.50 336.95M736.59 333.34L738.42 333.34M738.88 332.57L741.18 332.57M738.88 334.63L741.18 334.63M739.11 332.57L739.11 336.69M740.95 332.57L740.95 336.69M739.11 336.69L740.95 336.69M743.10 332.06L743.10 336.95M744.48 332.83L746.78 332.83M744.48 334.38L746.78 334.38M744.48 335.92L746.78 335.92M745.63 332.83L745.63 336.95M742.19 334.38L743.79 334.38M748.70 332.06L748.70 336.95M750.08 332.83L752.38 332.83M750.08 334.38L752.38 334.38M750.08 335.92L752.38 335.92M751.23 332.83L751.23 336.95M747.79 334.38L749.39 334.38M754.30 332.06L754.30 336.95M755.68 332.83L757.98 332.83M755.68 334.38L757.98 334.38M755.68 335.92L757.98 335.92M756.83 332.83L756.83 336.95M753.39 334.38L754.99 334.38M759.90 332.06L759.90 336.95M761.28 332.83L763.58 332.83M761.28 334.38L763.58 334.38M761.28 335.92L763.58 335.92M762.43 332.83L762.43 336.95M758.99 334.38L760.59 334.38M765.73 331.80L765.73 336.95M764.59 333.60L766.65 333.60M767.34 332.06L767.34 336.44M767.34 332.06L769.18 332.06M769.18 332.06L769.18 336.69M767.34 334.38L769.18 334.38M766.65 336.69L769.18 336.69M734.70 338.80L734.70 343.95M733.79 340.34L735.62 340.34M736.08 339.57L738.38 339.57M736.08 341.63L738.38 341.63M736.31 339.57L736.31 343.69M738.15 339.57L738.15 343.69M736.31 343.69L738.15 343.69M739.39 339.83L743.98 339.83M739.85 341.63L743.52 341.63M739.39 343.44L743.98 343.44M741.68 338.80L741.68 343.95M740.30 341.89L739.85 343.69M745.90 338.80L745.90 343.95M744.99 340.34L746.82 340.34M747.28 339.57L749.58 339.57M747.28 341.63L749.58 341.63M747.51 339.57L747.51 343.69M749.35 339.57L749.35 343.69M747.51 343.69L749.35 343.69M750.59 339.57L755.18 339.57M752.88 339.57L751.05 343.95M752.88 339.57L754.72 343.95M751.50 341.89L754.26 341.89M757.33 338.80L757.33 343.95M756.19 340.60L758.25 340.60M758.94 339.06L758.94 343.44M758.94 339.06L760.78 339.06M760.78 339.06L760.78 343.69M758.94 341.38L760.78 341.38M758.25 343.69L760.78 343.69M762.70 339.06L762.70 343.95M764.08 339.83L766.38 339.83M764.08 341.38L766.38 341.38M764.08 342.92L766.38 342.92M765.23 339.83L765.23 343.95M761.79 341.38L763.39 341.38M666.54 284.08L671.13 284.08M667.00 285.88L670.67 285.88M666.54 287.69L671.13 287.69M668.83 283.05L668.83 288.20M667.45 286.14L667.00 287.94M672.14 283.56L676.73 283.56M672.14 285.62L676.73 285.62M672.14 287.69L676.73 287.69M672.82 283.56L672.82 287.69M676.04 283.56L676.04 287.69M678.20 283.56L681.87 283.56M680.03 283.56L680.03 285.37M677.74 285.37L682.33 285.37M678.65 286.40L681.41 286.40M678.65 286.40L678.65 288.20M681.41 286.40L681.41 288.20M678.65 288.20L681.41 288.20M683.34 283.82L687.93 283.82M685.63 283.82L683.80 288.20M685.63 283.82L687.47 288.20M684.25 286.14L687.01 286.14M688.94 284.08L693.53 284.08M689.40 285.88L693.07 285.88M688.94 287.69L693.53 287.69M691.23 283.05L691.23 288.20M689.85 286.14L689.40 287.94M694.54 283.56L699.13 283.56M694.54 285.62L699.13 285.62M694.54 287.69L699.13 287.69M695.22 283.56L695.22 287.69M698.44 283.56L698.44 287.69M738.19 280.16L736.80 282.40M736.80 282.40L738.19 284.64M740.44 280.16L740.44 284.64M743.38 279.55L743.38 284.70M742.47 281.09L744.30 281.09M744.76 280.32L747.06 280.32M744.76 282.38L747.06 282.38M744.99 280.32L744.99 284.44M746.83 280.32L746.83 284.44M744.99 284.44L746.83 284.44M749.21 279.55L749.21 284.70M748.07 281.35L750.13 281.35M750.82 279.81L750.82 284.19M750.82 279.81L752.66 279.81M752.66 279.81L752.66 284.44M750.82 282.12L752.66 282.12M750.13 284.44L752.66 284.44M753.67 280.32L758.26 280.32M755.96 280.32L754.13 284.70M755.96 280.32L757.80 284.70M754.58 282.64L757.34 282.64M759.27 280.58L763.86 280.58M759.73 282.38L763.40 282.38M759.27 284.19L763.86 284.19M761.56 279.55L761.56 284.70M760.18 282.64L759.73 284.44M739.39 287.32L743.98 287.32M741.68 287.32L739.85 291.70M741.68 287.32L743.52 291.70M740.30 289.64L743.06 289.64M745.45 287.06L749.12 287.06M747.28 287.06L747.28 288.87M744.99 288.87L749.58 288.87M745.90 289.90L748.66 289.90M745.90 289.90L745.90 291.70M748.66 289.90L748.66 291.70M745.90 291.70L748.66 291.70M750.59 287.32L755.18 287.32M752.88 287.32L751.05 291.70M752.88 287.32L754.72 291.70M751.50 289.64L754.26 289.64M756.65 287.06L760.32 287.06M758.48 287.06L758.48 288.87M756.19 288.87L760.78 288.87M757.10 289.90L759.86 289.90M757.10 289.90L757.10 291.70M759.86 289.90L759.86 291.70M757.10 291.70L759.86 291.70M801.34 283.66L799.95 285.90M799.95 285.90L801.34 288.14M802.48 288.14L803.59 283.66M803.59 283.66L804.69 288.14M803.03 286.35L804.14 286.35M806.08 283.56L809.75 283.56M807.91 283.56L807.91 285.37M805.62 285.37L810.21 285.37M806.53 286.40L809.29 286.40M806.53 286.40L806.53 288.20M809.29 286.40L809.29 288.20M806.53 288.20L809.29 288.20M811.68 283.31L811.68 287.94M811.68 283.31L815.35 283.31M815.35 283.31L815.35 287.94M811.68 284.85L815.35 284.85M811.68 286.40L815.35 286.40M811.68 287.94L815.35 287.94M817.28 283.56L820.95 283.56M819.11 283.56L819.11 285.37M816.82 285.37L821.41 285.37M817.73 286.40L820.49 286.40M817.73 286.40L817.73 288.20M820.49 286.40L820.49 288.20M817.73 288.20L820.49 288.20M822.88 283.56L826.55 283.56M824.71 283.56L824.71 285.37M822.42 285.37L827.01 285.37M823.33 286.40L826.09 286.40M823.33 286.40L823.33 288.20M826.09 286.40L826.09 288.20M823.33 288.20L826.09 288.20M828.93 283.31L828.93 288.20M830.31 284.08L832.61 284.08M830.31 285.62L832.61 285.62M830.31 287.17L832.61 287.17M831.46 284.08L831.46 288.20M828.02 285.62L829.62 285.62M833.62 283.82L838.21 283.82M835.91 283.82L834.08 288.20M835.91 283.82L837.75 288.20M834.53 286.14L837.29 286.14M730.74 222.56L735.33 222.56M730.74 224.62L735.33 224.62M730.74 226.69L735.33 226.69M731.42 222.56L731.42 226.69M734.64 222.56L734.64 226.69M736.34 222.56L740.93 222.56M736.34 224.62L740.93 224.62M736.34 226.69L740.93 226.69M737.02 222.56L737.02 226.69M740.24 222.56L740.24 226.69M743.08 222.05L743.08 227.20M741.94 223.85L744.00 223.85M744.69 222.31L744.69 226.69M744.69 222.31L746.53 222.31M746.53 222.31L746.53 226.94M744.69 224.62L746.53 224.62M744.00 226.94L746.53 226.94M748.45 222.31L748.45 227.20M749.83 223.08L752.13 223.08M749.83 224.62L752.13 224.62M749.83 226.17L752.13 226.17M750.98 223.08L750.98 227.20M747.54 224.62L749.14 224.62M754.28 222.05L754.28 227.20M753.14 223.85L755.20 223.85M755.89 222.31L755.89 226.69M755.89 222.31L757.73 222.31M757.73 222.31L757.73 226.94M755.89 224.62L757.73 224.62M755.20 226.94L757.73 226.94M759.20 222.56L762.87 222.56M761.03 222.56L761.03 224.37M758.74 224.37L763.33 224.37M759.65 225.40L762.41 225.40M759.65 225.40L759.65 227.20M762.41 225.40L762.41 227.20M759.65 227.20L762.41 227.20M764.34 222.82L768.93 222.82M766.63 222.82L764.80 227.20M766.63 222.82L768.47 227.20M765.25 225.14L768.01 225.14M734.45 229.31L734.45 234.20M735.83 230.08L738.13 230.08M735.83 231.62L738.13 231.62M735.83 233.17L738.13 233.17M736.98 230.08L736.98 234.20M733.54 231.62L735.14 231.62M739.14 229.82L743.73 229.82M741.43 229.82L739.60 234.20M741.43 229.82L743.27 234.20M740.05 232.14L742.81 232.14M744.74 229.82L749.33 229.82M747.03 229.82L745.20 234.20M747.03 229.82L748.87 234.20M745.65 232.14L748.41 232.14M751.25 229.05L751.25 234.20M750.34 230.59L752.17 230.59M752.63 229.82L754.93 229.82M752.63 231.88L754.93 231.88M752.86 229.82L752.86 233.94M754.70 229.82L754.70 233.94M752.86 233.94L754.70 233.94M756.40 229.56L760.07 229.56M758.23 229.56L758.23 231.37M755.94 231.37L760.53 231.37M756.85 232.40L759.61 232.40M756.85 232.40L756.85 234.20M759.61 232.40L759.61 234.20M756.85 234.20L759.61 234.20M762.45 229.05L762.45 234.20M761.54 230.59L763.37 230.59M763.83 229.82L766.13 229.82M763.83 231.88L766.13 231.88M764.06 229.82L764.06 233.94M765.90 229.82L765.90 233.94M764.06 233.94L765.90 233.94M728.40 184.81L732.07 184.81M730.23 184.81L730.23 186.62M727.94 186.62L732.53 186.62M728.85 187.65L731.61 187.65M728.85 187.65L728.85 189.45M731.61 187.65L731.61 189.45M728.85 189.45L731.61 189.45M734.45 184.56L734.45 189.45M735.83 185.33L738.13 185.33M735.83 186.87L738.13 186.87M735.83 188.42L738.13 188.42M736.98 185.33L736.98 189.45M733.54 186.87L735.14 186.87M739.60 184.81L743.27 184.81M741.43 184.81L741.43 186.62M739.14 186.62L743.73 186.62M740.05 187.65L742.81 187.65M740.05 187.65L740.05 189.45M742.81 187.65L742.81 189.45M740.05 189.45L742.81 189.45M744.74 185.07L749.33 185.07M747.03 185.07L745.20 189.45M747.03 185.07L748.87 189.45M745.65 187.39L748.41 187.39M750.80 184.81L754.47 184.81M752.63 184.81L752.63 186.62M750.34 186.62L754.93 186.62M751.25 187.65L754.01 187.65M751.25 187.65L751.25 189.45M754.01 187.65L754.01 189.45M751.25 189.45L754.01 189.45M756.85 184.56L756.85 189.45M758.23 185.33L760.53 185.33M758.23 186.87L760.53 186.87M758.23 188.42L760.53 188.42M759.38 185.33L759.38 189.45M755.94 186.87L757.54 186.87M761.54 184.81L766.13 184.81M761.54 186.87L766.13 186.87M761.54 188.94L766.13 188.94M762.22 184.81L762.22 188.94M765.44 184.81L765.44 188.94M768.05 184.56L768.05 189.45M769.43 185.33L771.73 185.33M769.43 186.87L771.73 186.87M769.43 188.42L771.73 188.42M770.58 185.33L770.58 189.45M767.14 186.87L768.74 186.87M730.74 192.07L735.33 192.07M733.03 192.07L731.20 196.45M733.03 192.07L734.87 196.45M731.65 194.39L734.41 194.39M737.25 191.30L737.25 196.45M736.34 192.84L738.17 192.84M738.63 192.07L740.93 192.07M738.63 194.13L740.93 194.13M738.86 192.07L738.86 196.19M740.70 192.07L740.70 196.19M738.86 196.19L740.70 196.19M742.85 191.30L742.85 196.45M741.94 192.84L743.77 192.84M744.23 192.07L746.53 192.07M744.23 194.13L746.53 194.13M744.46 192.07L744.46 196.19M746.30 192.07L746.30 196.19M744.46 196.19L746.30 196.19M748.00 191.56L748.00 196.19M748.00 191.56L751.67 191.56M751.67 191.56L751.67 196.19M748.00 193.10L751.67 193.10M748.00 194.65L751.67 194.65M748.00 196.19L751.67 196.19M753.60 191.81L757.27 191.81M755.43 191.81L755.43 193.62M753.14 193.62L757.73 193.62M754.05 194.65L756.81 194.65M754.05 194.65L754.05 196.45M756.81 194.65L756.81 196.45M754.05 196.45L756.81 196.45M759.65 191.56L759.65 196.45M761.03 192.33L763.33 192.33M761.03 193.87L763.33 193.87M761.03 195.42L763.33 195.42M762.18 192.33L762.18 196.45M758.74 193.87L760.34 193.87M764.34 192.33L768.93 192.33M764.80 194.13L768.47 194.13M764.34 195.94L768.93 195.94M766.63 191.30L766.63 196.45M765.25 194.39L764.80 196.19M734.62 48.06L734.62 52.69M734.62 48.06L738.29 48.06M738.29 48.06L738.29 52.69M734.62 49.60L738.29 49.60M734.62 51.15L738.29 51.15M734.62 52.69L738.29 52.69M739.76 48.57L744.35 48.57M742.06 48.57L740.22 52.95M742.06 48.57L743.89 52.95M740.68 50.89L743.43 50.89M746.28 47.80L746.28 52.95M745.36 49.34L747.20 49.34M747.66 48.57L749.95 48.57M747.66 50.63L749.95 50.63M747.89 48.57L747.89 52.69M749.72 48.57L749.72 52.69M747.89 52.69L749.72 52.69M751.42 48.06L751.42 52.69M751.42 48.06L755.09 48.06M755.09 48.06L755.09 52.69M751.42 49.60L755.09 49.60M751.42 51.15L755.09 51.15M751.42 52.69L755.09 52.69M757.48 48.06L757.48 52.95M758.86 48.83L761.15 48.83M758.86 50.38L761.15 50.38M758.86 51.92L761.15 51.92M760.01 48.83L760.01 52.95M756.56 50.38L758.17 50.38M762.62 48.06L762.62 52.69M762.62 48.06L766.29 48.06M766.29 48.06L766.29 52.69M762.62 49.60L766.29 49.60M762.62 51.15L766.29 51.15M762.62 52.69L766.29 52.69M730.16 83.42L728.78 85.66M728.78 85.66L730.16 87.90M731.30 87.90L732.41 83.42M732.41 83.42L733.52 87.90M731.86 86.10L732.97 86.10M734.44 83.83L739.03 83.83M734.90 85.63L738.57 85.63M734.44 87.44L739.03 87.44M736.74 82.80L736.74 87.95M735.36 85.89L734.90 87.69M740.04 83.83L744.63 83.83M740.50 85.63L744.17 85.63M740.04 87.44L744.63 87.44M742.34 82.80L742.34 87.95M740.96 85.89L740.50 87.69M745.64 83.83L750.23 83.83M746.10 85.63L749.77 85.63M745.64 87.44L750.23 87.44M747.94 82.80L747.94 87.95M746.56 85.89L746.10 87.69M751.24 83.31L755.83 83.31M751.24 85.38L755.83 85.38M751.24 87.44L755.83 87.44M751.93 83.31L751.93 87.44M755.14 83.31L755.14 87.44M756.84 83.83L761.43 83.83M757.30 85.63L760.97 85.63M756.84 87.44L761.43 87.44M759.14 82.80L759.14 87.95M757.76 85.89L757.30 87.69M763.36 83.06L763.36 87.95M764.74 83.83L767.03 83.83M764.74 85.38L767.03 85.38M764.74 86.92L767.03 86.92M765.89 83.83L765.89 87.95M762.44 85.38L764.05 85.38M768.04 83.83L772.63 83.83M768.50 85.63L772.17 85.63M768.04 87.44L772.63 87.44M770.34 82.80L770.34 87.95M768.96 85.89L768.50 87.69M746.28 90.06L746.28 94.95M747.66 90.83L749.95 90.83M747.66 92.38L749.95 92.38M747.66 93.92L749.95 93.92M748.80 90.83L748.80 94.95M745.36 92.38L746.97 92.38M750.96 90.57L755.55 90.57M753.26 90.57L751.42 94.95M753.26 90.57L755.09 94.95M751.88 92.89L754.63 92.89M728.56 128.83L733.15 128.83M729.02 130.63L732.69 130.63M728.56 132.44L733.15 132.44M730.86 127.80L730.86 132.95M729.48 130.89L729.02 132.69M734.16 128.83L738.75 128.83M734.62 130.63L738.29 130.63M734.16 132.44L738.75 132.44M736.46 127.80L736.46 132.95M735.08 130.89L734.62 132.69M739.76 128.31L744.35 128.31M739.76 130.38L744.35 130.38M739.76 132.44L744.35 132.44M740.45 128.31L740.45 132.44M743.66 128.31L743.66 132.44M745.36 128.31L749.95 128.31M745.36 130.38L749.95 130.38M745.36 132.44L749.95 132.44M746.05 128.31L746.05 132.44M749.26 128.31L749.26 132.44M751.88 127.80L751.88 132.95M750.96 129.34L752.80 129.34M753.26 128.57L755.55 128.57M753.26 130.63L755.55 130.63M753.49 128.57L753.49 132.69M755.32 128.57L755.32 132.69M753.49 132.69L755.32 132.69M756.56 128.83L761.15 128.83M757.02 130.63L760.69 130.63M756.56 132.44L761.15 132.44M758.86 127.80L758.86 132.95M757.48 130.89L757.02 132.69M762.62 128.06L762.62 132.69M762.62 128.06L766.29 128.06M766.29 128.06L766.29 132.69M762.62 129.60L766.29 129.60M762.62 131.15L766.29 131.15M762.62 132.69L766.29 132.69M768.22 128.31L771.89 128.31M770.06 128.31L770.06 130.12M767.76 130.12L772.35 130.12M768.68 131.15L771.43 131.15M768.68 131.15L768.68 132.95M771.43 131.15L771.43 132.95M768.68 132.95L771.43 132.95M836.65 20.44L840.32 20.44M838.48 20.44L838.48 22.24M836.19 22.24L840.78 22.24M837.10 23.27L839.86 23.27M837.10 23.27L837.10 25.08M839.86 23.27L839.86 25.08M837.10 25.08L839.86 25.08M841.79 20.44L846.38 20.44M841.79 22.50L846.38 22.50M841.79 24.56L846.38 24.56M842.47 20.44L842.47 24.56M845.69 20.44L845.69 24.56M848.53 19.92L848.53 25.08M847.39 21.73L849.45 21.73M850.14 20.18L850.14 24.56M850.14 20.18L851.98 20.18M851.98 20.18L851.98 24.82M850.14 22.50L851.98 22.50M849.45 24.82L851.98 24.82M853.45 20.44L857.12 20.44M855.28 20.44L855.28 22.24M852.99 22.24L857.58 22.24M853.90 23.27L856.66 23.27M853.90 23.27L853.90 25.08M856.66 23.27L856.66 25.08M853.90 25.08L856.66 25.08M859.73 19.92L859.73 25.08M858.59 21.73L860.65 21.73M861.34 20.18L861.34 24.56M861.34 20.18L863.18 20.18M863.18 20.18L863.18 24.82M861.34 22.50L863.18 22.50M860.65 24.82L863.18 24.82M864.65 20.44L868.32 20.44M866.48 20.44L866.48 22.24M864.19 22.24L868.78 22.24M865.10 23.27L867.86 23.27M865.10 23.27L865.10 25.08M867.86 23.27L867.86 25.08M865.10 25.08L867.86 25.08M869.79 20.70L874.38 20.70M872.08 20.70L870.25 25.08M872.08 20.70L873.92 25.08M870.70 23.02L873.46 23.02M876.53 19.92L876.53 25.08M875.39 21.73L877.45 21.73M878.14 20.18L878.14 24.56M878.14 20.18L879.98 20.18M879.98 20.18L879.98 24.82M878.14 22.50L879.98 22.50M877.45 24.82L879.98 24.82M832.21 26.70Q830.53 29.50 832.21 32.30M833.85 27.18L833.85 31.82M833.85 27.18L837.52 27.18M837.52 27.18L837.52 31.82M833.85 28.73L837.52 28.73M833.85 30.27L837.52 30.27M833.85 31.82L837.52 31.82M838.99 27.95L843.58 27.95M839.45 29.76L843.12 29.76M838.99 31.56L843.58 31.56M841.28 26.92L841.28 32.08M839.90 30.02L839.45 31.82M844.59 27.44L849.18 27.44M844.59 29.50L849.18 29.50M844.59 31.56L849.18 31.56M845.27 27.44L845.27 31.56M848.49 27.44L848.49 31.56M850.19 27.70L854.78 27.70M852.48 27.70L850.65 32.08M852.48 27.70L854.32 32.08M851.10 30.02L853.86 30.02M856.70 27.18L856.70 32.08M858.08 27.95L860.38 27.95M858.08 29.50L860.38 29.50M858.08 31.05L860.38 31.05M859.23 27.95L859.23 32.08M855.79 29.50L857.39 29.50M861.85 27.18L861.85 31.82M861.85 27.18L865.52 27.18M865.52 27.18L865.52 31.82M861.85 28.73L865.52 28.73M861.85 30.27L865.52 30.27M861.85 31.82L865.52 31.82M866.99 27.95L871.58 27.95M867.45 29.76L871.12 29.76M866.99 31.56L871.58 31.56M869.28 26.92L869.28 32.08M867.90 30.02L867.45 31.82M872.59 27.95L877.18 27.95M873.05 29.76L876.72 29.76M872.59 31.56L877.18 31.56M874.88 26.92L874.88 32.08M873.50 30.02L873.05 31.82M878.19 27.44L882.78 27.44M878.19 29.50L882.78 29.50M878.19 31.56L882.78 31.56M878.87 27.44L878.87 31.56M882.09 27.44L882.09 31.56M884.29 26.70Q885.97 29.50 884.29 32.30M845.23 71.89L845.23 76.37M847.20 76.37L848.31 71.89M848.31 71.89L849.42 76.37M847.76 74.58L848.87 74.58M850.34 71.79L854.93 71.79M850.34 73.85L854.93 73.85M850.34 75.91L854.93 75.91M851.03 71.79L851.03 75.91M854.24 71.79L854.24 75.91M855.94 72.30L860.53 72.30M856.40 74.11L860.07 74.11M855.94 75.91L860.53 75.91M858.24 71.27L858.24 76.43M856.86 74.37L856.40 76.17M861.54 72.30L866.13 72.30M862.00 74.11L865.67 74.11M861.54 75.91L866.13 75.91M863.84 71.27L863.84 76.43M862.46 74.37L862.00 76.17M867.14 72.30L871.73 72.30M867.60 74.11L871.27 74.11M867.14 75.91L871.73 75.91M869.44 71.27L869.44 76.43M868.06 74.37L867.60 76.17M848.18 78.53L848.18 83.43M849.56 79.30L851.85 79.30M849.56 80.85L851.85 80.85M849.56 82.40L851.85 82.40M850.70 79.30L850.70 83.43M847.26 80.85L848.87 80.85M853.78 78.27L853.78 83.43M852.86 79.82L854.70 79.82M855.16 79.05L857.45 79.05M855.16 81.11L857.45 81.11M855.39 79.05L855.39 83.17M857.22 79.05L857.22 83.17M855.39 83.17L857.22 83.17M858.46 78.79L863.05 78.79M858.46 80.85L863.05 80.85M858.46 82.91L863.05 82.91M859.15 78.79L859.15 82.91M862.36 78.79L862.36 82.91M864.06 79.05L868.65 79.05M866.36 79.05L864.52 83.43M866.36 79.05L868.19 83.43M864.98 81.37L867.73 81.37M936.30 75.18L936.30 80.08M937.68 75.95L939.98 75.95M937.68 77.50L939.98 77.50M937.68 79.05L939.98 79.05M938.83 75.95L938.83 80.08M935.39 77.50L936.99 77.50M941.90 74.92L941.90 80.08M940.99 76.47L942.82 76.47M943.28 75.70L945.58 75.70M943.28 77.76L945.58 77.76M943.51 75.70L943.51 79.82M945.35 75.70L945.35 79.82M943.51 79.82L945.35 79.82M946.59 75.44L951.18 75.44M946.59 77.50L951.18 77.50M946.59 79.56L951.18 79.56M947.27 75.44L947.27 79.56M950.49 75.44L950.49 79.56M952.65 75.44L956.32 75.44M954.48 75.44L954.48 77.24M952.19 77.24L956.78 77.24M953.10 78.27L955.86 78.27M953.10 78.27L953.10 80.08M955.86 78.27L955.86 80.08M953.10 80.08L955.86 80.08M841.20 137.14L842.31 132.66M842.31 132.66L843.41 137.14M841.75 135.35L842.86 135.35M845.39 132.66L845.39 137.14M847.42 132.56L852.01 132.56M847.42 134.62L852.01 134.62M847.42 136.69L852.01 136.69M848.10 132.56L848.10 136.69M851.32 132.56L851.32 136.69M853.93 132.05L853.93 137.20M853.02 133.59L854.85 133.59M855.31 132.82L857.61 132.82M855.31 134.88L857.61 134.88M855.54 132.82L855.54 136.94M857.38 132.82L857.38 136.94M855.54 136.94L857.38 136.94M859.53 132.31L859.53 137.20M860.91 133.08L863.21 133.08M860.91 134.62L863.21 134.62M860.91 136.17L863.21 136.17M862.06 133.08L862.06 137.20M858.62 134.62L860.22 134.62M864.22 132.56L868.81 132.56M864.22 134.62L868.81 134.62M864.22 136.69L868.81 136.69M864.90 132.56L864.90 136.69M868.12 132.56L868.12 136.69M870.73 132.05L870.73 137.20M869.82 133.59L871.65 133.59M872.11 132.82L874.41 132.82M872.11 134.88L874.41 134.88M872.34 132.82L872.34 136.94M874.18 132.82L874.18 136.94M872.34 136.94L874.18 136.94M740.30 443.33L740.30 448.23M741.68 444.10L743.98 444.10M741.68 445.65L743.98 445.65M741.68 447.20L743.98 447.20M742.83 444.10L742.83 448.23M739.39 445.65L740.99 445.65M744.99 443.85L749.58 443.85M747.28 443.85L745.45 448.23M747.28 443.85L749.12 448.23M745.90 446.17L748.66 446.17M751.05 443.59L754.72 443.59M752.88 443.59L752.88 445.39M750.59 445.39L755.18 445.39M751.50 446.42L754.26 446.42M751.50 446.42L751.50 448.23M754.26 446.42L754.26 448.23M751.50 448.23L754.26 448.23M757.33 443.07L757.33 448.23M756.19 444.88L758.25 444.88M758.94 443.33L758.94 447.71M758.94 443.33L760.78 443.33M760.78 443.33L760.78 447.97M758.94 445.65L760.78 445.65M758.25 447.97L760.78 447.97" fill="none" stroke="#333" stroke-opacity="0.62" stroke-width="0.75" stroke-linecap="square"/><path d="M87.78 200.86L87.78 205.58M89.18 201.61L91.52 201.61M89.18 203.10L91.52 203.10M89.18 204.59L91.52 204.59M90.35 201.61L90.35 205.58M86.84 203.10L88.48 203.10M93.48 200.86L93.48 205.58M94.88 201.61L97.22 201.61M94.88 203.10L97.22 203.10M94.88 204.59L97.22 204.59M96.05 201.61L96.05 205.58M92.54 203.10L94.18 203.10M98.71 201.11L102.45 201.11M100.58 201.11L100.58 202.85M98.24 202.85L102.92 202.85M99.18 203.85L101.98 203.85M99.18 203.85L99.18 205.58M101.98 203.85L101.98 205.58M99.18 205.58L101.98 205.58M105.11 200.62L105.11 205.58M103.94 202.35L106.05 202.35M106.75 200.86L106.75 205.09M106.75 200.86L108.62 200.86M108.62 200.86L108.62 205.34M106.75 203.10L108.62 203.10M106.05 205.34L108.62 205.34M110.11 201.11L113.85 201.11M111.98 201.11L111.98 202.85M109.64 202.85L114.32 202.85M110.58 203.85L113.38 203.85M110.58 203.85L110.58 205.58M113.38 203.85L113.38 205.58M110.58 205.58L113.38 205.58M82.08 208.06L82.08 212.78M83.48 208.81L85.82 208.81M83.48 210.30L85.82 210.30M83.48 211.79L85.82 211.79M84.65 208.81L84.65 212.78M81.14 210.30L82.78 210.30M86.84 208.81L91.52 208.81M87.31 210.55L91.05 210.55M86.84 212.29L91.52 212.29M89.18 207.82L89.18 212.78M87.78 210.80L87.31 212.54M93.01 208.06L93.01 212.54M93.01 208.06L96.75 208.06M96.75 208.06L96.75 212.54M93.01 209.55L96.75 209.55M93.01 211.05L96.75 211.05M93.01 212.54L96.75 212.54M99.18 207.82L99.18 212.78M98.24 209.31L100.11 209.31M100.58 208.56L102.92 208.56M100.58 210.55L102.92 210.55M100.81 208.56L100.81 212.54M102.68 208.56L102.68 212.54M100.81 212.54L102.68 212.54M104.41 208.06L104.41 212.54M104.41 208.06L108.15 208.06M108.15 208.06L108.15 212.54M104.41 209.55L108.15 209.55M104.41 211.05L108.15 211.05M104.41 212.54L108.15 212.54M110.58 208.06L110.58 212.78M111.98 208.81L114.32 208.81M111.98 210.30L114.32 210.30M111.98 211.79L114.32 211.79M113.15 208.81L113.15 212.78M109.64 210.30L111.28 210.30M115.34 208.56L120.02 208.56M117.68 208.56L115.81 212.78M117.68 208.56L119.55 212.78M116.28 210.80L119.08 210.80M209.33 201.52L209.33 206.48M208.39 203.01L210.26 203.01M210.73 202.26L213.07 202.26M210.73 204.25L213.07 204.25M210.96 202.26L210.96 206.24M212.83 202.26L212.83 206.24M210.96 206.24L212.83 206.24M214.56 202.01L218.30 202.01M216.43 202.01L216.43 203.75M214.09 203.75L218.77 203.75M215.03 204.75L217.83 204.75M215.03 204.75L215.03 206.48M217.83 204.75L217.83 206.48M215.03 206.48L217.83 206.48M220.26 201.76L220.26 206.24M220.26 201.76L224.00 201.76M224.00 201.76L224.00 206.24M220.26 203.25L224.00 203.25M220.26 204.75L224.00 204.75M220.26 206.24L224.00 206.24M226.43 201.52L226.43 206.48M225.49 203.01L227.36 203.01M227.83 202.26L230.17 202.26M227.83 204.25L230.17 204.25M228.06 202.26L228.06 206.24M229.93 202.26L229.93 206.24M228.06 206.24L229.93 206.24M231.66 202.01L235.40 202.01M233.53 202.01L233.53 203.75M231.19 203.75L235.87 203.75M232.13 204.75L234.93 204.75M232.13 204.75L232.13 206.48M234.93 204.75L234.93 206.48M232.13 206.48L234.93 206.48M238.06 201.52L238.06 206.48M236.89 203.25L239.00 203.25M239.70 201.76L239.70 205.99M239.70 201.76L241.57 201.76M241.57 201.76L241.57 206.24M239.70 204.00L241.57 204.00M239.00 206.24L241.57 206.24M243.53 201.52L243.53 206.48M242.59 203.01L244.46 203.01M244.93 202.26L247.27 202.26M244.93 204.25L247.27 204.25M245.16 202.26L245.16 206.24M247.03 202.26L247.03 206.24M245.16 206.24L247.03 206.24M216.94 209.71L221.62 209.71M217.41 211.45L221.15 211.45M216.94 213.19L221.62 213.19M219.28 208.72L219.28 213.68M217.88 211.70L217.41 213.44M222.64 209.46L227.32 209.46M224.98 209.46L223.11 213.68M224.98 209.46L226.85 213.68M223.58 211.70L226.38 211.70M228.34 209.71L233.02 209.71M228.81 211.45L232.55 211.45M228.34 213.19L233.02 213.19M230.68 208.72L230.68 213.68M229.28 211.70L228.81 213.44M235.21 208.72L235.21 213.68M234.04 210.45L236.15 210.45M236.85 208.96L236.85 213.19M236.85 208.96L238.72 208.96M238.72 208.96L238.72 213.44M236.85 211.20L238.72 211.20M236.15 213.44L238.72 213.44M13.32 232.46L18.00 232.46M13.79 234.20L17.53 234.20M13.32 235.94L18.00 235.94M15.66 231.47L15.66 236.43M14.26 234.45L13.79 236.19M19.96 231.71L19.96 236.43M21.36 232.46L23.70 232.46M21.36 233.95L23.70 233.95M21.36 235.44L23.70 235.44M22.53 232.46L22.53 236.43M19.02 233.95L20.66 233.95M25.19 231.96L28.93 231.96M27.06 231.96L27.06 233.70M24.72 233.70L29.40 233.70M25.66 234.70L28.46 234.70M25.66 234.70L25.66 236.43M28.46 234.70L28.46 236.43M25.66 236.43L28.46 236.43M31.36 231.47L31.36 236.43M30.42 232.96L32.29 232.96M32.76 232.21L35.10 232.21M32.76 234.20L35.10 234.20M33.00 232.21L33.00 236.19M34.86 232.21L34.86 236.19M33.00 236.19L34.86 236.19M37.19 232.06L37.19 236.38M40.19 231.71L40.19 236.43M41.60 232.46L43.93 232.46M41.60 233.95L43.93 233.95M41.60 235.44L43.93 235.44M42.76 232.46L42.76 236.43M39.26 233.95L40.90 233.95M44.96 232.46L49.63 232.46M45.43 234.20L49.17 234.20M44.96 235.94L49.63 235.94M47.30 231.47L47.30 236.43M45.89 234.45L45.43 236.19M51.13 231.96L54.87 231.96M53.00 231.96L53.00 233.70M50.66 233.70L55.33 233.70M51.59 234.70L54.40 234.70M51.59 234.70L51.59 236.43M54.40 234.70L54.40 236.43M51.59 236.43L54.40 236.43M56.36 232.46L61.03 232.46M56.83 234.20L60.57 234.20M56.36 235.94L61.03 235.94M58.70 231.47L58.70 236.43M57.29 234.45L56.83 236.19M62.53 231.71L62.53 236.19M62.53 231.71L66.27 231.71M66.27 231.71L66.27 236.19M62.53 233.20L66.27 233.20M62.53 234.70L66.27 234.70M62.53 236.19L66.27 236.19M68.23 231.71L68.23 236.19M68.23 231.71L71.97 231.71M71.97 231.71L71.97 236.19M68.23 233.20L71.97 233.20M68.23 234.70L71.97 234.70M68.23 236.19L71.97 236.19M73.46 232.21L78.13 232.21M75.80 232.21L73.93 236.43M75.80 232.21L77.67 236.43M74.39 234.45L77.20 234.45M79.63 231.71L79.63 236.19M79.63 231.71L83.37 231.71M83.37 231.71L83.37 236.19M79.63 233.20L83.37 233.20M79.63 234.70L83.37 234.70M79.63 236.19L83.37 236.19M459.01 299.96L462.75 299.96M460.88 299.96L460.88 301.70M458.54 301.70L463.22 301.70M459.48 302.70L462.28 302.70M459.48 302.70L459.48 304.43M462.28 302.70L462.28 304.43M459.48 304.43L462.28 304.43M464.24 300.21L468.92 300.21M466.58 300.21L464.71 304.43M466.58 300.21L468.45 304.43M465.18 302.45L467.98 302.45M469.94 300.21L474.62 300.21M472.28 300.21L470.41 304.43M472.28 300.21L474.15 304.43M470.88 302.45L473.68 302.45M476.58 299.47L476.58 304.43M475.64 300.96L477.51 300.96M477.98 300.21L480.32 300.21M477.98 302.20L480.32 302.20M478.21 300.21L478.21 304.19M480.08 300.21L480.08 304.19M478.21 304.19L480.08 304.19M481.34 300.21L486.02 300.21M483.68 300.21L481.81 304.43M483.68 300.21L485.55 304.43M482.28 302.45L485.08 302.45M487.04 299.96L491.72 299.96M487.04 301.95L491.72 301.95M487.04 303.94L491.72 303.94M487.74 299.96L487.74 303.94M491.01 299.96L491.01 303.94M492.74 300.21L497.42 300.21M495.08 300.21L493.21 304.43M495.08 300.21L496.95 304.43M493.68 302.45L496.48 302.45M499.38 299.71L499.38 304.43M500.78 300.46L503.12 300.46M500.78 301.95L503.12 301.95M500.78 303.44L503.12 303.44M501.95 300.46L501.95 304.43M498.44 301.95L500.08 301.95M737.03 262.96L737.03 267.68M738.43 263.71L740.77 263.71M738.43 265.20L740.77 265.20M738.43 266.69L740.77 266.69M739.60 263.71L739.60 267.68M736.09 265.20L737.73 265.20M741.79 263.21L746.47 263.21M741.79 265.20L746.47 265.20M741.79 267.19L746.47 267.19M742.49 263.21L742.49 267.19M745.76 263.21L745.76 267.19M747.96 262.96L747.96 267.44M747.96 262.96L751.70 262.96M751.70 262.96L751.70 267.44M747.96 264.45L751.70 264.45M747.96 265.95L751.70 265.95M747.96 267.44L751.70 267.44M753.19 263.46L757.87 263.46M755.53 263.46L753.66 267.68M755.53 263.46L757.40 267.68M754.13 265.70L756.93 265.70M760.06 262.72L760.06 267.68M758.89 264.45L761.00 264.45M761.70 262.96L761.70 267.19M761.70 262.96L763.57 262.96M763.57 262.96L763.57 267.44M761.70 265.20L763.57 265.20M761.00 267.44L763.57 267.44M734.18 163.22L734.18 168.18M733.24 164.71L735.11 164.71M735.58 163.96L737.92 163.96M735.58 165.95L737.92 165.95M735.81 163.96L735.81 167.94M737.68 163.96L737.68 167.94M735.81 167.94L737.68 167.94M739.88 163.22L739.88 168.18M738.94 164.71L740.81 164.71M741.28 163.96L743.62 163.96M741.28 165.95L743.62 165.95M741.51 163.96L741.51 167.94M743.38 163.96L743.38 167.94M741.51 167.94L743.38 167.94M745.11 163.71L748.85 163.71M746.98 163.71L746.98 165.45M744.64 165.45L749.32 165.45M745.58 166.45L748.38 166.45M745.58 166.45L745.58 168.18M748.38 166.45L748.38 168.18M745.58 168.18L748.38 168.18M751.28 163.22L751.28 168.18M750.34 164.71L752.21 164.71M752.68 163.96L755.02 163.96M752.68 165.95L755.02 165.95M752.91 163.96L752.91 167.94M754.78 163.96L754.78 167.94M752.91 167.94L754.78 167.94M756.98 163.22L756.98 168.18M756.04 164.71L757.91 164.71M758.38 163.96L760.72 163.96M758.38 165.95L760.72 165.95M758.61 163.96L758.61 167.94M760.48 163.96L760.48 167.94M758.61 167.94L760.48 167.94M762.91 163.22L762.91 168.18M761.74 164.95L763.85 164.95M764.55 163.46L764.55 167.69M764.55 163.46L766.42 163.46M766.42 163.46L766.42 167.94M764.55 165.70L766.42 165.70M763.85 167.94L766.42 167.94M889.61 70.62L889.61 75.58M888.44 72.35L890.55 72.35M891.25 70.86L891.25 75.09M891.25 70.86L893.12 70.86M893.12 70.86L893.12 75.34M891.25 73.10L893.12 73.10M890.55 75.34L893.12 75.34M894.14 71.11L898.82 71.11M894.14 73.10L898.82 73.10M894.14 75.09L898.82 75.09M894.84 71.11L894.84 75.09M898.11 71.11L898.11 75.09M899.84 71.61L904.52 71.61M900.31 73.35L904.05 73.35M899.84 75.09L904.52 75.09M902.18 70.62L902.18 75.58M900.78 73.60L900.31 75.34M906.71 70.62L906.71 75.58M905.54 72.35L907.65 72.35M908.35 70.86L908.35 75.09M908.35 70.86L910.22 70.86M910.22 70.86L910.22 75.34M908.35 73.10L910.22 73.10M907.65 75.34L910.22 75.34M894.14 78.81L898.82 78.81M894.61 80.55L898.35 80.55M894.14 82.29L898.82 82.29M896.48 77.82L896.48 82.78M895.08 80.80L894.61 82.54M900.31 78.06L900.31 82.54M900.31 78.06L904.05 78.06M904.05 78.06L904.05 82.54M900.31 79.55L904.05 79.55M900.31 81.05L904.05 81.05M900.31 82.54L904.05 82.54M848.11 100.12L848.11 105.08M846.94 101.85L849.05 101.85M849.75 100.36L849.75 104.59M849.75 100.36L851.62 100.36M851.62 100.36L851.62 104.84M849.75 102.60L851.62 102.60M849.05 104.84L851.62 104.84M853.11 100.36L853.11 104.84M853.11 100.36L856.85 100.36M856.85 100.36L856.85 104.84M853.11 101.85L856.85 101.85M853.11 103.35L856.85 103.35M853.11 104.84L856.85 104.84M858.34 101.11L863.02 101.11M858.81 102.85L862.55 102.85M858.34 104.59L863.02 104.59M860.68 100.12L860.68 105.08M859.28 103.10L858.81 104.84M864.98 100.36L864.98 105.08M866.38 101.11L868.72 101.11M866.38 102.60L868.72 102.60M866.38 104.09L868.72 104.09M867.55 101.11L867.55 105.08M864.04 102.60L865.68 102.60M849.79 108.06L854.47 108.06M852.13 108.06L850.26 112.28M852.13 108.06L854.00 112.28M850.73 110.30L853.53 110.30M856.43 107.32L856.43 112.28M855.49 108.81L857.36 108.81M857.83 108.06L860.17 108.06M857.83 110.05L860.17 110.05M858.06 108.06L858.06 112.04M859.93 108.06L859.93 112.04M858.06 112.04L859.93 112.04M862.36 107.32L862.36 112.28M861.19 109.05L863.30 109.05M864.00 107.56L864.00 111.79M864.00 107.56L865.87 107.56M865.87 107.56L865.87 112.04M864.00 109.80L865.87 109.80M863.30 112.04L865.87 112.04M679.76 403.11L684.43 403.11M679.76 405.10L684.43 405.10M679.76 407.09L684.43 407.09M680.46 403.11L680.46 407.09M683.73 403.11L683.73 407.09M685.46 403.61L690.13 403.61M685.92 405.35L689.66 405.35M685.46 407.09L690.13 407.09M687.79 402.62L687.79 407.58M686.39 405.60L685.92 407.34M691.62 402.86L691.62 407.34M691.62 402.86L695.36 402.86M695.36 402.86L695.36 407.34M691.62 404.35L695.36 404.35M691.62 405.85L695.36 405.85M691.62 407.34L695.36 407.34M697.79 402.62L697.79 407.58M696.86 404.11L698.73 404.11M699.19 403.36L701.53 403.36M699.19 405.35L701.53 405.35M699.43 403.36L699.43 407.34M701.30 403.36L701.30 407.34M699.43 407.34L701.30 407.34M703.73 402.62L703.73 407.58M702.56 404.35L704.66 404.35M705.36 402.86L705.36 407.09M705.36 402.86L707.23 402.86M707.23 402.86L707.23 407.34M705.36 405.10L707.23 405.10M704.66 407.34L707.23 407.34M708.26 403.11L712.93 403.11M708.26 405.10L712.93 405.10M708.26 407.09L712.93 407.09M708.96 403.11L708.96 407.09M712.23 403.11L712.23 407.09M714.89 402.62L714.89 407.58M713.96 404.11L715.83 404.11M716.29 403.36L718.63 403.36M716.29 405.35L718.63 405.35M716.53 403.36L716.53 407.34M718.40 403.36L718.40 407.34M716.53 407.34L718.40 407.34M720.73 403.21L720.73 407.53M722.73 407.53L723.86 403.21M723.86 403.21L724.99 407.53M723.30 405.80L724.43 405.80M680.51 410.31L684.25 410.31M682.38 410.31L682.38 412.05M680.04 412.05L684.72 412.05M680.98 413.05L683.78 413.05M680.98 413.05L680.98 414.78M683.78 413.05L683.78 414.78M680.98 414.78L683.78 414.78M686.68 409.82L686.68 414.78M685.74 411.31L687.61 411.31M688.08 410.56L690.42 410.56M688.08 412.55L690.42 412.55M688.31 410.56L688.31 414.54M690.18 410.56L690.18 414.54M688.31 414.54L690.18 414.54M692.61 409.82L692.61 414.78M691.44 411.55L693.55 411.55M694.25 410.06L694.25 414.29M694.25 410.06L696.12 410.06M696.12 410.06L696.12 414.54M694.25 412.30L696.12 412.30M693.55 414.54L696.12 414.54M698.08 409.82L698.08 414.78M697.14 411.31L699.01 411.31M699.48 410.56L701.82 410.56M699.48 412.55L701.82 412.55M699.71 410.56L699.71 414.54M701.58 410.56L701.58 414.54M699.71 414.54L701.58 414.54M703.78 410.06L703.78 414.78M705.18 410.81L707.52 410.81M705.18 412.30L707.52 412.30M705.18 413.79L707.52 413.79M706.35 410.81L706.35 414.78M702.84 412.30L704.48 412.30M708.54 410.31L713.22 410.31M708.54 412.30L713.22 412.30M708.54 414.29L713.22 414.29M709.24 410.31L709.24 414.29M712.51 410.31L712.51 414.29M714.24 410.56L718.92 410.56M716.58 410.56L714.71 414.78M716.58 410.56L718.45 414.78M715.18 412.80L717.98 412.80M720.41 410.06L720.41 414.54M720.41 410.06L724.15 410.06M724.15 410.06L724.15 414.54M720.41 411.55L724.15 411.55M720.41 413.05L724.15 413.05M720.41 414.54L724.15 414.54M740.61 402.62L740.61 407.58M739.44 404.35L741.55 404.35M742.25 402.86L742.25 407.09M742.25 402.86L744.12 402.86M744.12 402.86L744.12 407.34M742.25 405.10L744.12 405.10M741.55 407.34L744.12 407.34M745.14 403.61L749.82 403.61M745.61 405.35L749.35 405.35M745.14 407.09L749.82 407.09M747.48 402.62L747.48 407.58M746.08 405.60L745.61 407.34M750.84 403.11L755.52 403.11M750.84 405.10L755.52 405.10M750.84 407.09L755.52 407.09M751.54 403.11L751.54 407.09M754.81 403.11L754.81 407.09M757.01 403.11L760.75 403.11M758.88 403.11L758.88 404.85M756.54 404.85L761.22 404.85M757.48 405.85L760.28 405.85M757.48 405.85L757.48 407.58M760.28 405.85L760.28 407.58M757.48 407.58L760.28 407.58M746.08 409.82L746.08 414.78M745.14 411.31L747.01 411.31M747.48 410.56L749.82 410.56M747.48 412.55L749.82 412.55M747.71 410.56L747.71 414.54M749.58 410.56L749.58 414.54M747.71 414.54L749.58 414.54M750.84 410.81L755.52 410.81M751.31 412.55L755.05 412.55M750.84 414.29L755.52 414.29M753.18 409.82L753.18 414.78M751.78 412.80L751.31 414.54" fill="none" stroke="#e8303a" stroke-opacity="0.6" stroke-width="0.75" stroke-linecap="square"/><path d="M456.48 198.42L456.48 203.58M455.34 200.23L457.40 200.23M458.09 198.68L458.09 203.06M458.09 198.68L459.93 198.68M459.93 198.68L459.93 203.32M458.09 201.00L459.93 201.00M457.40 203.32L459.93 203.32M460.94 198.94L465.53 198.94M460.94 201.00L465.53 201.00M460.94 203.06L465.53 203.06M461.62 198.94L461.62 203.06M464.84 198.94L464.84 203.06M466.54 199.45L471.13 199.45M467.00 201.26L470.67 201.26M466.54 203.06L471.13 203.06M468.83 198.42L468.83 203.58M467.45 201.52L467.00 203.32M472.60 198.94L476.27 198.94M474.43 198.94L474.43 200.74M472.14 200.74L476.73 200.74M473.05 201.77L475.81 201.77M473.05 201.77L473.05 203.58M475.81 201.77L475.81 203.58M473.05 203.58L475.81 203.58M478.88 198.42L478.88 203.58M477.74 200.23L479.80 200.23M480.49 198.68L480.49 203.06M480.49 198.68L482.33 198.68M482.33 198.68L482.33 203.32M480.49 201.00L482.33 201.00M479.80 203.32L482.33 203.32M484.48 198.42L484.48 203.58M483.34 200.23L485.40 200.23M486.09 198.68L486.09 203.06M486.09 198.68L487.93 198.68M487.93 198.68L487.93 203.32M486.09 201.00L487.93 201.00M485.40 203.32L487.93 203.32M489.40 198.94L493.07 198.94M491.23 198.94L491.23 200.74M488.94 200.74L493.53 200.74M489.85 201.77L492.61 201.77M489.85 201.77L489.85 203.58M492.61 201.77L492.61 203.58M489.85 203.58L492.61 203.58M456.48 205.62L456.48 210.78M455.34 207.43L457.40 207.43M458.09 205.88L458.09 210.26M458.09 205.88L459.93 205.88M459.93 205.88L459.93 210.52M458.09 208.20L459.93 208.20M457.40 210.52L459.93 210.52M461.85 205.88L461.85 210.78M463.23 206.65L465.53 206.65M463.23 208.20L465.53 208.20M463.23 209.75L465.53 209.75M464.38 206.65L464.38 210.78M460.94 208.20L462.54 208.20M466.54 206.65L471.13 206.65M467.00 208.46L470.67 208.46M466.54 210.26L471.13 210.26M468.83 205.62L468.83 210.78M467.45 208.72L467.00 210.52M473.28 205.62L473.28 210.78M472.14 207.43L474.20 207.43M474.89 205.88L474.89 210.26M474.89 205.88L476.73 205.88M476.73 205.88L476.73 210.52M474.89 208.20L476.73 208.20M474.20 210.52L476.73 210.52M477.74 206.40L482.33 206.40M480.03 206.40L478.20 210.78M480.03 206.40L481.87 210.78M478.65 208.72L481.41 208.72M483.34 206.14L487.93 206.14M483.34 208.20L487.93 208.20M483.34 210.26L487.93 210.26M484.02 206.14L484.02 210.26M487.24 206.14L487.24 210.26M490.08 205.62L490.08 210.78M488.94 207.43L491.00 207.43M491.69 205.88L491.69 210.26M491.69 205.88L493.53 205.88M493.53 205.88L493.53 210.52M491.69 208.20L493.53 208.20M491.00 210.52L493.53 210.52M455.34 213.34L459.93 213.34M455.34 215.40L459.93 215.40M455.34 217.46L459.93 217.46M456.02 213.34L456.02 217.46M459.24 213.34L459.24 217.46M460.94 213.34L465.53 213.34M460.94 215.40L465.53 215.40M460.94 217.46L465.53 217.46M461.62 213.34L461.62 217.46M464.84 213.34L464.84 217.46" fill="none" stroke="#222" stroke-opacity="0.65" stroke-width="0.85" stroke-linecap="square"/></svg>
<svg class="b" style="left:0;top:0" width="979" height="471"><g fill="none" stroke="#000" stroke-opacity="0.2" stroke-width="1"><path d="M-14.64 -2.79L-14.64 2.79M-14.64 -2.79L-9.36 -2.79M-9.36 -2.79L-9.36 2.79M-14.64 -0.93L-9.36 -0.93M-14.64 0.93L-9.36 0.93M-14.64 2.79L-9.36 2.79M-5.98 -3.10L-5.98 3.10M-7.30 -1.24L-4.66 -1.24M-4.00 -2.17L-0.70 -2.17M-4.00 0.31L-0.70 0.31M-3.67 -2.17L-3.67 2.79M-1.03 -2.17L-1.03 2.79M-3.67 2.79L-1.03 2.79M2.35 -3.10L2.35 3.10M0.70 -0.93L3.67 -0.93M4.66 -2.79L4.66 2.48M4.66 -2.79L7.30 -2.79M7.30 -2.79L7.30 2.79M4.66 0.00L7.30 0.00M3.67 2.79L7.30 2.79M10.02 -2.79L10.02 3.10M12.00 -1.86L15.30 -1.86M12.00 0.00L15.30 0.00M12.00 1.86L15.30 1.86M13.65 -1.86L13.65 3.10M8.70 0.00L11.01 0.00" transform="translate(49.8,48.5) rotate(-44)"/><path d="M-14.64 -2.79L-14.64 2.79M-14.64 -2.79L-9.36 -2.79M-9.36 -2.79L-9.36 2.79M-14.64 -0.93L-9.36 -0.93M-14.64 0.93L-9.36 0.93M-14.64 2.79L-9.36 2.79M-5.98 -3.10L-5.98 3.10M-7.30 -1.24L-4.66 -1.24M-4.00 -2.17L-0.70 -2.17M-4.00 0.31L-0.70 0.31M-3.67 -2.17L-3.67 2.79M-1.03 -2.17L-1.03 2.79M-3.67 2.79L-1.03 2.79M2.35 -3.10L2.35 3.10M0.70 -0.93L3.67 -0.93M4.66 -2.79L4.66 2.48M4.66 -2.79L7.30 -2.79M7.30 -2.79L7.30 2.79M4.66 0.00L7.30 0.00M3.67 2.79L7.30 2.79M10.02 -2.79L10.02 3.10M12.00 -1.86L15.30 -1.86M12.00 0.00L15.30 0.00M12.00 1.86L15.30 1.86M13.65 -1.86L13.65 3.10M8.70 0.00L11.01 0.00" transform="translate(180.4,48.5) rotate(-44)"/><path d="M-14.64 -2.79L-14.64 2.79M-14.64 -2.79L-9.36 -2.79M-9.36 -2.79L-9.36 2.79M-14.64 -0.93L-9.36 -0.93M-14.64 0.93L-9.36 0.93M-14.64 2.79L-9.36 2.79M-5.98 -3.10L-5.98 3.10M-7.30 -1.24L-4.66 -1.24M-4.00 -2.17L-0.70 -2.17M-4.00 0.31L-0.70 0.31M-3.67 -2.17L-3.67 2.79M-1.03 -2.17L-1.03 2.79M-3.67 2.79L-1.03 2.79M2.35 -3.10L2.35 3.10M0.70 -0.93L3.67 -0.93M4.66 -2.79L4.66 2.48M4.66 -2.79L7.30 -2.79M7.30 -2.79L7.30 2.79M4.66 0.00L7.30 0.00M3.67 2.79L7.30 2.79M10.02 -2.79L10.02 3.10M12.00 -1.86L15.30 -1.86M12.00 0.00L15.30 0.00M12.00 1.86L15.30 1.86M13.65 -1.86L13.65 3.10M8.70 0.00L11.01 0.00" transform="translate(311.1,48.5) rotate(-44)"/><path d="M-14.64 -2.79L-14.64 2.79M-14.64 -2.79L-9.36 -2.79M-9.36 -2.79L-9.36 2.79M-14.64 -0.93L-9.36 -0.93M-14.64 0.93L-9.36 0.93M-14.64 2.79L-9.36 2.79M-5.98 -3.10L-5.98 3.10M-7.30 -1.24L-4.66 -1.24M-4.00 -2.17L-0.70 -2.17M-4.00 0.31L-0.70 0.31M-3.67 -2.17L-3.67 2.79M-1.03 -2.17L-1.03 2.79M-3.67 2.79L-1.03 2.79M2.35 -3.10L2.35 3.10M0.70 -0.93L3.67 -0.93M4.66 -2.79L4.66 2.48M4.66 -2.79L7.30 -2.79M7.30 -2.79L7.30 2.79M4.66 0.00L7.30 0.00M3.67 2.79L7.30 2.79M10.02 -2.79L10.02 3.10M12.00 -1.86L15.30 -1.86M12.00 0.00L15.30 0.00M12.00 1.86L15.30 1.86M13.65 -1.86L13.65 3.10M8.70 0.00L11.01 0.00" transform="translate(441.8,48.5) rotate(-44)"/><path d="M-14.64 -2.79L-14.64 2.79M-14.64 -2.79L-9.36 -2.79M-9.36 -2.79L-9.36 2.79M-14.64 -0.93L-9.36 -0.93M-14.64 0.93L-9.36 0.93M-14.64 2.79L-9.36 2.79M-5.98 -3.10L-5.98 3.10M-7.30 -1.24L-4.66 -1.24M-4.00 -2.17L-0.70 -2.17M-4.00 0.31L-0.70 0.31M-3.67 -2.17L-3.67 2.79M-1.03 -2.17L-1.03 2.79M-3.67 2.79L-1.03 2.79M2.35 -3.10L2.35 3.10M0.70 -0.93L3.67 -0.93M4.66 -2.79L4.66 2.48M4.66 -2.79L7.30 -2.79M7.30 -2.79L7.30 2.79M4.66 0.00L7.30 0.00M3.67 2.79L7.30 2.79M10.02 -2.79L10.02 3.10M12.00 -1.86L15.30 -1.86M12.00 0.00L15.30 0.00M12.00 1.86L15.30 1.86M13.65 -1.86L13.65 3.10M8.70 0.00L11.01 0.00" transform="translate(572.4,48.5) rotate(-44)"/><path d="M-14.64 -2.79L-14.64 2.79M-14.64 -2.79L-9.36 -2.79M-9.36 -2.79L-9.36 2.79M-14.64 -0.93L-9.36 -0.93M-14.64 0.93L-9.36 0.93M-14.64 2.79L-9.36 2.79M-5.98 -3.10L-5.98 3.10M-7.30 -1.24L-4.66 -1.24M-4.00 -2.17L-0.70 -2.17M-4.00 0.31L-0.70 0.31M-3.67 -2.17L-3.67 2.79M-1.03 -2.17L-1.03 2.79M-3.67 2.79L-1.03 2.79M2.35 -3.10L2.35 3.10M0.70 -0.93L3.67 -0.93M4.66 -2.79L4.66 2.48M4.66 -2.79L7.30 -2.79M7.30 -2.79L7.30 2.79M4.66 0.00L7.30 0.00M3.67 2.79L7.30 2.79M10.02 -2.79L10.02 3.10M12.00 -1.86L15.30 -1.86M12.00 0.00L15.30 0.00M12.00 1.86L15.30 1.86M13.65 -1.86L13.65 3.10M8.70 0.00L11.01 0.00" transform="translate(703.0,48.5) rotate(-44)"/><path d="M-14.64 -2.79L-14.64 2.79M-14.64 -2.79L-9.36 -2.79M-9.36 -2.79L-9.36 2.79M-14.64 -0.93L-9.36 -0.93M-14.64 0.93L-9.36 0.93M-14.64 2.79L-9.36 2.79M-5.98 -3.10L-5.98 3.10M-7.30 -1.24L-4.66 -1.24M-4.00 -2.17L-0.70 -2.17M-4.00 0.31L-0.70 0.31M-3.67 -2.17L-3.67 2.79M-1.03 -2.17L-1.03 2.79M-3.67 2.79L-1.03 2.79M2.35 -3.10L2.35 3.10M0.70 -0.93L3.67 -0.93M4.66 -2.79L4.66 2.48M4.66 -2.79L7.30 -2.79M7.30 -2.79L7.30 2.79M4.66 0.00L7.30 0.00M3.67 2.79L7.30 2.79M10.02 -2.79L10.02 3.10M12.00 -1.86L15.30 -1.86M12.00 0.00L15.30 0.00M12.00 1.86L15.30 1.86M13.65 -1.86L13.65 3.10M8.70 0.00L11.01 0.00" transform="translate(833.7,48.5) rotate(-44)"/><path d="M-14.64 -2.79L-14.64 2.79M-14.64 -2.79L-9.36 -2.79M-9.36 -2.79L-9.36 2.79M-14.64 -0.93L-9.36 -0.93M-14.64 0.93L-9.36 0.93M-14.64 2.79L-9.36 2.79M-5.98 -3.10L-5.98 3.10M-7.30 -1.24L-4.66 -1.24M-4.00 -2.17L-0.70 -2.17M-4.00 0.31L-0.70 0.31M-3.67 -2.17L-3.67 2.79M-1.03 -2.17L-1.03 2.79M-3.67 2.79L-1.03 2.79M2.35 -3.10L2.35 3.10M0.70 -0.93L3.67 -0.93M4.66 -2.79L4.66 2.48M4.66 -2.79L7.30 -2.79M7.30 -2.79L7.30 2.79M4.66 0.00L7.30 0.00M3.67 2.79L7.30 2.79M10.02 -2.79L10.02 3.10M12.00 -1.86L15.30 -1.86M12.00 0.00L15.30 0.00M12.00 1.86L15.30 1.86M13.65 -1.86L13.65 3.10M8.70 0.00L11.01 0.00" transform="translate(964.4,48.5) rotate(-44)"/><path d="M-14.64 -2.79L-14.64 2.79M-14.64 -2.79L-9.36 -2.79M-9.36 -2.79L-9.36 2.79M-14.64 -0.93L-9.36 -0.93M-14.64 0.93L-9.36 0.93M-14.64 2.79L-9.36 2.79M-5.98 -3.10L-5.98 3.10M-7.30 -1.24L-4.66 -1.24M-4.00 -2.17L-0.70 -2.17M-4.00 0.31L-0.70 0.31M-3.67 -2.17L-3.67 2.79M-1.03 -2.17L-1.03 2.79M-3.67 2.79L-1.03 2.79M2.35 -3.10L2.35 3.10M0.70 -0.93L3.67 -0.93M4.66 -2.79L4.66 2.48M4.66 -2.79L7.30 -2.79M7.30 -2.79L7.30 2.79M4.66 0.00L7.30 0.00M3.67 2.79L7.30 2.79M10.02 -2.79L10.02 3.10M12.00 -1.86L15.30 -1.86M12.00 0.00L15.30 0.00M12.00 1.86L15.30 1.86M13.65 -1.86L13.65 3.10M8.70 0.00L11.01 0.00" transform="translate(49.8,179.5) rotate(-44)"/><path d="M-14.64 -2.79L-14.64 2.79M-14.64 -2.79L-9.36 -2.79M-9.36 -2.79L-9.36 2.79M-14.64 -0.93L-9.36 -0.93M-14.64 0.93L-9.36 0.93M-14.64 2.79L-9.36 2.79M-5.98 -3.10L-5.98 3.10M-7.30 -1.24L-4.66 -1.24M-4.00 -2.17L-0.70 -2.17M-4.00 0.31L-0.70 0.31M-3.67 -2.17L-3.67 2.79M-1.03 -2.17L-1.03 2.79M-3.67 2.79L-1.03 2.79M2.35 -3.10L2.35 3.10M0.70 -0.93L3.67 -0.93M4.66 -2.79L4.66 2.48M4.66 -2.79L7.30 -2.79M7.30 -2.79L7.30 2.79M4.66 0.00L7.30 0.00M3.67 2.79L7.30 2.79M10.02 -2.79L10.02 3.10M12.00 -1.86L15.30 -1.86M12.00 0.00L15.30 0.00M12.00 1.86L15.30 1.86M13.65 -1.86L13.65 3.10M8.70 0.00L11.01 0.00" transform="translate(180.4,179.5) rotate(-44)"/><path d="M-14.64 -2.79L-14.64 2.79M-14.64 -2.79L-9.36 -2.79M-9.36 -2.79L-9.36 2.79M-14.64 -0.93L-9.36 -0.93M-14.64 0.93L-9.36 0.93M-14.64 2.79L-9.36 2.79M-5.98 -3.10L-5.98 3.10M-7.30 -1.24L-4.66 -1.24M-4.00 -2.17L-0.70 -2.17M-4.00 0.31L-0.70 0.31M-3.67 -2.17L-3.67 2.79M-1.03 -2.17L-1.03 2.79M-3.67 2.79L-1.03 2.79M2.35 -3.10L2.35 3.10M0.70 -0.93L3.67 -0.93M4.66 -2.79L4.66 2.48M4.66 -2.79L7.30 -2.79M7.30 -2.79L7.30 2.79M4.66 0.00L7.30 0.00M3.67 2.79L7.30 2.79M10.02 -2.79L10.02 3.10M12.00 -1.86L15.30 -1.86M12.00 0.00L15.30 0.00M12.00 1.86L15.30 1.86M13.65 -1.86L13.65 3.10M8.70 0.00L11.01 0.00" transform="translate(311.1,179.5) rotate(-44)"/><path d="M-14.64 -2.79L-14.64 2.79M-14.64 -2.79L-9.36 -2.79M-9.36 -2.79L-9.36 2.79M-14.64 -0.93L-9.36 -0.93M-14.64 0.93L-9.36 0.93M-14.64 2.79L-9.36 2.79M-5.98 -3.10L-5.98 3.10M-7.30 -1.24L-4.66 -1.24M-4.00 -2.17L-0.70 -2.17M-4.00 0.31L-0.70 0.31M-3.67 -2.17L-3.67 2.79M-1.03 -2.17L-1.03 2.79M-3.67 2.79L-1.03 2.79M2.35 -3.10L2.35 3.10M0.70 -0.93L3.67 -0.93M4.66 -2.79L4.66 2.48M4.66 -2.79L7.30 -2.79M7.30 -2.79L7.30 2.79M4.66 0.00L7.30 0.00M3.67 2.79L7.30 2.79M10.02 -2.79L10.02 3.10M12.00 -1.86L15.30 -1.86M12.00 0.00L15.30 0.00M12.00 1.86L15.30 1.86M13.65 -1.86L13.65 3.10M8.70 0.00L11.01 0.00" transform="translate(441.8,179.5) rotate(-44)"/><path d="M-14.64 -2.79L-14.64 2.79M-14.64 -2.79L-9.36 -2.79M-9.36 -2.79L-9.36 2.79M-14.64 -0.93L-9.36 -0.93M-14.64 0.93L-9.36 0.93M-14.64 2.79L-9.36 2.79M-5.98 -3.10L-5.98 3.10M-7.30 -1.24L-4.66 -1.24M-4.00 -2.17L-0.70 -2.17M-4.00 0.31L-0.70 0.31M-3.67 -2.17L-3.67 2.79M-1.03 -2.17L-1.03 2.79M-3.67 2.79L-1.03 2.79M2.35 -3.10L2.35 3.10M0.70 -0.93L3.67 -0.93M4.66 -2.79L4.66 2.48M4.66 -2.79L7.30 -2.79M7.30 -2.79L7.30 2.79M4.66 0.00L7.30 0.00M3.67 2.79L7.30 2.79M10.02 -2.79L10.02 3.10M12.00 -1.86L15.30 -1.86M12.00 0.00L15.30 0.00M12.00 1.86L15.30 1.86M13.65 -1.86L13.65 3.10M8.70 0.00L11.01 0.00" transform="translate(572.4,179.5) rotate(-44)"/><path d="M-14.64 -2.79L-14.64 2.79M-14.64 -2.79L-9.36 -2.79M-9.36 -2.79L-9.36 2.79M-14.64 -0.93L-9.36 -0.93M-14.64 0.93L-9.36 0.93M-14.64 2.79L-9.36 2.79M-5.98 -3.10L-5.98 3.10M-7.30 -1.24L-4.66 -1.24M-4.00 -2.17L-0.70 -2.17M-4.00 0.31L-0.70 0.31M-3.67 -2.17L-3.67 2.79M-1.03 -2.17L-1.03 2.79M-3.67 2.79L-1.03 2.79M2.35 -3.10L2.35 3.10M0.70 -0.93L3.67 -0.93M4.66 -2.79L4.66 2.48M4.66 -2.79L7.30 -2.79M7.30 -2.79L7.30 2.79M4.66 0.00L7.30 0.00M3.67 2.79L7.30 2.79M10.02 -2.79L10.02 3.10M12.00 -1.86L15.30 -1.86M12.00 0.00L15.30 0.00M12.00 1.86L15.30 1.86M13.65 -1.86L13.65 3.10M8.70 0.00L11.01 0.00" transform="translate(703.0,179.5) rotate(-44)"/><path d="M-14.64 -2.79L-14.64 2.79M-14.64 -2.79L-9.36 -2.79M-9.36 -2.79L-9.36 2.79M-14.64 -0.93L-9.36 -0.93M-14.64 0.93L-9.36 0.93M-14.64 2.79L-9.36 2.79M-5.98 -3.10L-5.98 3.10M-7.30 -1.24L-4.66 -1.24M-4.00 -2.17L-0.70 -2.17M-4.00 0.31L-0.70 0.31M-3.67 -2.17L-3.67 2.79M-1.03 -2.17L-1.03 2.79M-3.67 2.79L-1.03 2.79M2.35 -3.10L2.35 3.10M0.70 -0.93L3.67 -0.93M4.66 -2.79L4.66 2.48M4.66 -2.79L7.30 -2.79M7.30 -2.79L7.30 2.79M4.66 0.00L7.30 0.00M3.67 2.79L7.30 2.79M10.02 -2.79L10.02 3.10M12.00 -1.86L15.30 -1.86M12.00 0.00L15.30 0.00M12.00 1.86L15.30 1.86M13.65 -1.86L13.65 3.10M8.70 0.00L11.01 0.00" transform="translate(833.7,179.5) rotate(-44)"/><path d="M-14.64 -2.79L-14.64 2.79M-14.64 -2.79L-9.36 -2.79M-9.36 -2.79L-9.36 2.79M-14.64 -0.93L-9.36 -0.93M-14.64 0.93L-9.36 0.93M-14.64 2.79L-9.36 2.79M-5.98 -3.10L-5.98 3.10M-7.30 -1.24L-4.66 -1.24M-4.00 -2.17L-0.70 -2.17M-4.00 0.31L-0.70 0.31M-3.67 -2.17L-3.67 2.79M-1.03 -2.17L-1.03 2.79M-3.67 2.79L-1.03 2.79M2.35 -3.10L2.35 3.10M0.70 -0.93L3.67 -0.93M4.66 -2.79L4.66 2.48M4.66 -2.79L7.30 -2.79M7.30 -2.79L7.30 2.79M4.66 0.00L7.30 0.00M3.67 2.79L7.30 2.79M10.02 -2.79L10.02 3.10M12.00 -1.86L15.30 -1.86M12.00 0.00L15.30 0.00M12.00 1.86L15.30 1.86M13.65 -1.86L13.65 3.10M8.70 0.00L11.01 0.00" transform="translate(964.4,179.5) rotate(-44)"/><path d="M-14.64 -2.79L-14.64 2.79M-14.64 -2.79L-9.36 -2.79M-9.36 -2.79L-9.36 2.79M-14.64 -0.93L-9.36 -0.93M-14.64 0.93L-9.36 0.93M-14.64 2.79L-9.36 2.79M-5.98 -3.10L-5.98 3.10M-7.30 -1.24L-4.66 -1.24M-4.00 -2.17L-0.70 -2.17M-4.00 0.31L-0.70 0.31M-3.67 -2.17L-3.67 2.79M-1.03 -2.17L-1.03 2.79M-3.67 2.79L-1.03 2.79M2.35 -3.10L2.35 3.10M0.70 -0.93L3.67 -0.93M4.66 -2.79L4.66 2.48M4.66 -2.79L7.30 -2.79M7.30 -2.79L7.30 2.79M4.66 0.00L7.30 0.00M3.67 2.79L7.30 2.79M10.02 -2.79L10.02 3.10M12.00 -1.86L15.30 -1.86M12.00 0.00L15.30 0.00M12.00 1.86L15.30 1.86M13.65 -1.86L13.65 3.10M8.70 0.00L11.01 0.00" transform="translate(49.8,310.5) rotate(-44)"/><path d="M-14.64 -2.79L-14.64 2.79M-14.64 -2.79L-9.36 -2.79M-9.36 -2.79L-9.36 2.79M-14.64 -0.93L-9.36 -0.93M-14.64 0.93L-9.36 0.93M-14.64 2.79L-9.36 2.79M-5.98 -3.10L-5.98 3.10M-7.30 -1.24L-4.66 -1.24M-4.00 -2.17L-0.70 -2.17M-4.00 0.31L-0.70 0.31M-3.67 -2.17L-3.67 2.79M-1.03 -2.17L-1.03 2.79M-3.67 2.79L-1.03 2.79M2.35 -3.10L2.35 3.10M0.70 -0.93L3.67 -0.93M4.66 -2.79L4.66 2.48M4.66 -2.79L7.30 -2.79M7.30 -2.79L7.30 2.79M4.66 0.00L7.30 0.00M3.67 2.79L7.30 2.79M10.02 -2.79L10.02 3.10M12.00 -1.86L15.30 -1.86M12.00 0.00L15.30 0.00M12.00 1.86L15.30 1.86M13.65 -1.86L13.65 3.10M8.70 0.00L11.01 0.00" transform="translate(180.4,310.5) rotate(-44)"/><path d="M-14.64 -2.79L-14.64 2.79M-14.64 -2.79L-9.36 -2.79M-9.36 -2.79L-9.36 2.79M-14.64 -0.93L-9.36 -0.93M-14.64 0.93L-9.36 0.93M-14.64 2.79L-9.36 2.79M-5.98 -3.10L-5.98 3.10M-7.30 -1.24L-4.66 -1.24M-4.00 -2.17L-0.70 -2.17M-4.00 0.31L-0.70 0.31M-3.67 -2.17L-3.67 2.79M-1.03 -2.17L-1.03 2.79M-3.67 2.79L-1.03 2.79M2.35 -3.10L2.35 3.10M0.70 -0.93L3.67 -0.93M4.66 -2.79L4.66 2.48M4.66 -2.79L7.30 -2.79M7.30 -2.79L7.30 2.79M4.66 0.00L7.30 0.00M3.67 2.79L7.30 2.79M10.02 -2.79L10.02 3.10M12.00 -1.86L15.30 -1.86M12.00 0.00L15.30 0.00M12.00 1.86L15.30 1.86M13.65 -1.86L13.65 3.10M8.70 0.00L11.01 0.00" transform="translate(311.1,310.5) rotate(-44)"/><path d="M-14.64 -2.79L-14.64 2.79M-14.64 -2.79L-9.36 -2.79M-9.36 -2.79L-9.36 2.79M-14.64 -0.93L-9.36 -0.93M-14.64 0.93L-9.36 0.93M-14.64 2.79L-9.36 2.79M-5.98 -3.10L-5.98 3.10M-7.30 -1.24L-4.66 -1.24M-4.00 -2.17L-0.70 -2.17M-4.00 0.31L-0.70 0.31M-3.67 -2.17L-3.67 2.79M-1.03 -2.17L-1.03 2.79M-3.67 2.79L-1.03 2.79M2.35 -3.10L2.35 3.10M0.70 -0.93L3.67 -0.93M4.66 -2.79L4.66 2.48M4.66 -2.79L7.30 -2.79M7.30 -2.79L7.30 2.79M4.66 0.00L7.30 0.00M3.67 2.79L7.30 2.79M10.02 -2.79L10.02 3.10M12.00 -1.86L15.30 -1.86M12.00 0.00L15.30 0.00M12.00 1.86L15.30 1.86M13.65 -1.86L13.65 3.10M8.70 0.00L11.01 0.00" transform="translate(441.8,310.5) rotate(-44)"/><path d="M-14.64 -2.79L-14.64 2.79M-14.64 -2.79L-9.36 -2.79M-9.36 -2.79L-9.36 2.79M-14.64 -0.93L-9.36 -0.93M-14.64 0.93L-9.36 0.93M-14.64 2.79L-9.36 2.79M-5.98 -3.10L-5.98 3.10M-7.30 -1.24L-4.66 -1.24M-4.00 -2.17L-0.70 -2.17M-4.00 0.31L-0.70 0.31M-3.67 -2.17L-3.67 2.79M-1.03 -2.17L-1.03 2.79M-3.67 2.79L-1.03 2.79M2.35 -3.10L2.35 3.10M0.70 -0.93L3.67 -0.93M4.66 -2.79L4.66 2.48M4.66 -2.79L7.30 -2.79M7.30 -2.79L7.30 2.79M4.66 0.00L7.30 0.00M3.67 2.79L7.30 2.79M10.02 -2.79L10.02 3.10M12.00 -1.86L15.30 -1.86M12.00 0.00L15.30 0.00M12.00 1.86L15.30 1.86M13.65 -1.86L13.65 3.10M8.70 0.00L11.01 0.00" transform="translate(572.4,310.5) rotate(-44)"/><path d="M-14.64 -2.79L-14.64 2.79M-14.64 -2.79L-9.36 -2.79M-9.36 -2.79L-9.36 2.79M-14.64 -0.93L-9.36 -0.93M-14.64 0.93L-9.36 0.93M-14.64 2.79L-9.36 2.79M-5.98 -3.10L-5.98 3.10M-7.30 -1.24L-4.66 -1.24M-4.00 -2.17L-0.70 -2.17M-4.00 0.31L-0.70 0.31M-3.67 -2.17L-3.67 2.79M-1.03 -2.17L-1.03 2.79M-3.67 2.79L-1.03 2.79M2.35 -3.10L2.35 3.10M0.70 -0.93L3.67 -0.93M4.66 -2.79L4.66 2.48M4.66 -2.79L7.30 -2.79M7.30 -2.79L7.30 2.79M4.66 0.00L7.30 0.00M3.67 2.79L7.30 2.79M10.02 -2.79L10.02 3.10M12.00 -1.86L15.30 -1.86M12.00 0.00L15.30 0.00M12.00 1.86L15.30 1.86M13.65 -1.86L13.65 3.10M8.70 0.00L11.01 0.00" transform="translate(703.0,310.5) rotate(-44)"/><path d="M-14.64 -2.79L-14.64 2.79M-14.64 -2.79L-9.36 -2.79M-9.36 -2.79L-9.36 2.79M-14.64 -0.93L-9.36 -0.93M-14.64 0.93L-9.36 0.93M-14.64 2.79L-9.36 2.79M-5.98 -3.10L-5.98 3.10M-7.30 -1.24L-4.66 -1.24M-4.00 -2.17L-0.70 -2.17M-4.00 0.31L-0.70 0.31M-3.67 -2.17L-3.67 2.79M-1.03 -2.17L-1.03 2.79M-3.67 2.79L-1.03 2.79M2.35 -3.10L2.35 3.10M0.70 -0.93L3.67 -0.93M4.66 -2.79L4.66 2.48M4.66 -2.79L7.30 -2.79M7.30 -2.79L7.30 2.79M4.66 0.00L7.30 0.00M3.67 2.79L7.30 2.79M10.02 -2.79L10.02 3.10M12.00 -1.86L15.30 -1.86M12.00 0.00L15.30 0.00M12.00 1.86L15.30 1.86M13.65 -1.86L13.65 3.10M8.70 0.00L11.01 0.00" transform="translate(833.7,310.5) rotate(-44)"/><path d="M-14.64 -2.79L-14.64 2.79M-14.64 -2.79L-9.36 -2.79M-9.36 -2.79L-9.36 2.79M-14.64 -0.93L-9.36 -0.93M-14.64 0.93L-9.36 0.93M-14.64 2.79L-9.36 2.79M-5.98 -3.10L-5.98 3.10M-7.30 -1.24L-4.66 -1.24M-4.00 -2.17L-0.70 -2.17M-4.00 0.31L-0.70 0.31M-3.67 -2.17L-3.67 2.79M-1.03 -2.17L-1.03 2.79M-3.67 2.79L-1.03 2.79M2.35 -3.10L2.35 3.10M0.70 -0.93L3.67 -0.93M4.66 -2.79L4.66 2.48M4.66 -2.79L7.30 -2.79M7.30 -2.79L7.30 2.79M4.66 0.00L7.30 0.00M3.67 2.79L7.30 2.79M10.02 -2.79L10.02 3.10M12.00 -1.86L15.30 -1.86M12.00 0.00L15.30 0.00M12.00 1.86L15.30 1.86M13.65 -1.86L13.65 3.10M8.70 0.00L11.01 0.00" transform="translate(964.4,310.5) rotate(-44)"/><path d="M-14.64 -2.79L-14.64 2.79M-14.64 -2.79L-9.36 -2.79M-9.36 -2.79L-9.36 2.79M-14.64 -0.93L-9.36 -0.93M-14.64 0.93L-9.36 0.93M-14.64 2.79L-9.36 2.79M-5.98 -3.10L-5.98 3.10M-7.30 -1.24L-4.66 -1.24M-4.00 -2.17L-0.70 -2.17M-4.00 0.31L-0.70 0.31M-3.67 -2.17L-3.67 2.79M-1.03 -2.17L-1.03 2.79M-3.67 2.79L-1.03 2.79M2.35 -3.10L2.35 3.10M0.70 -0.93L3.67 -0.93M4.66 -2.79L4.66 2.48M4.66 -2.79L7.30 -2.79M7.30 -2.79L7.30 2.79M4.66 0.00L7.30 0.00M3.67 2.79L7.30 2.79M10.02 -2.79L10.02 3.10M12.00 -1.86L15.30 -1.86M12.00 0.00L15.30 0.00M12.00 1.86L15.30 1.86M13.65 -1.86L13.65 3.10M8.70 0.00L11.01 0.00" transform="translate(49.8,441.5) rotate(-44)"/><path d="M-14.64 -2.79L-14.64 2.79M-14.64 -2.79L-9.36 -2.79M-9.36 -2.79L-9.36 2.79M-14.64 -0.93L-9.36 -0.93M-14.64 0.93L-9.36 0.93M-14.64 2.79L-9.36 2.79M-5.98 -3.10L-5.98 3.10M-7.30 -1.24L-4.66 -1.24M-4.00 -2.17L-0.70 -2.17M-4.00 0.31L-0.70 0.31M-3.67 -2.17L-3.67 2.79M-1.03 -2.17L-1.03 2.79M-3.67 2.79L-1.03 2.79M2.35 -3.10L2.35 3.10M0.70 -0.93L3.67 -0.93M4.66 -2.79L4.66 2.48M4.66 -2.79L7.30 -2.79M7.30 -2.79L7.30 2.79M4.66 0.00L7.30 0.00M3.67 2.79L7.30 2.79M10.02 -2.79L10.02 3.10M12.00 -1.86L15.30 -1.86M12.00 0.00L15.30 0.00M12.00 1.86L15.30 1.86M13.65 -1.86L13.65 3.10M8.70 0.00L11.01 0.00" transform="translate(180.4,441.5) rotate(-44)"/><path d="M-14.64 -2.79L-14.64 2.79M-14.64 -2.79L-9.36 -2.79M-9.36 -2.79L-9.36 2.79M-14.64 -0.93L-9.36 -0.93M-14.64 0.93L-9.36 0.93M-14.64 2.79L-9.36 2.79M-5.98 -3.10L-5.98 3.10M-7.30 -1.24L-4.66 -1.24M-4.00 -2.17L-0.70 -2.17M-4.00 0.31L-0.70 0.31M-3.67 -2.17L-3.67 2.79M-1.03 -2.17L-1.03 2.79M-3.67 2.79L-1.03 2.79M2.35 -3.10L2.35 3.10M0.70 -0.93L3.67 -0.93M4.66 -2.79L4.66 2.48M4.66 -2.79L7.30 -2.79M7.30 -2.79L7.30 2.79M4.66 0.00L7.30 0.00M3.67 2.79L7.30 2.79M10.02 -2.79L10.02 3.10M12.00 -1.86L15.30 -1.86M12.00 0.00L15.30 0.00M12.00 1.86L15.30 1.86M13.65 -1.86L13.65 3.10M8.70 0.00L11.01 0.00" transform="translate(311.1,441.5) rotate(-44)"/><path d="M-14.64 -2.79L-14.64 2.79M-14.64 -2.79L-9.36 -2.79M-9.36 -2.79L-9.36 2.79M-14.64 -0.93L-9.36 -0.93M-14.64 0.93L-9.36 0.93M-14.64 2.79L-9.36 2.79M-5.98 -3.10L-5.98 3.10M-7.30 -1.24L-4.66 -1.24M-4.00 -2.17L-0.70 -2.17M-4.00 0.31L-0.70 0.31M-3.67 -2.17L-3.67 2.79M-1.03 -2.17L-1.03 2.79M-3.67 2.79L-1.03 2.79M2.35 -3.10L2.35 3.10M0.70 -0.93L3.67 -0.93M4.66 -2.79L4.66 2.48M4.66 -2.79L7.30 -2.79M7.30 -2.79L7.30 2.79M4.66 0.00L7.30 0.00M3.67 2.79L7.30 2.79M10.02 -2.79L10.02 3.10M12.00 -1.86L15.30 -1.86M12.00 0.00L15.30 0.00M12.00 1.86L15.30 1.86M13.65 -1.86L13.65 3.10M8.70 0.00L11.01 0.00" transform="translate(441.8,441.5) rotate(-44)"/><path d="M-14.64 -2.79L-14.64 2.79M-14.64 -2.79L-9.36 -2.79M-9.36 -2.79L-9.36 2.79M-14.64 -0.93L-9.36 -0.93M-14.64 0.93L-9.36 0.93M-14.64 2.79L-9.36 2.79M-5.98 -3.10L-5.98 3.10M-7.30 -1.24L-4.66 -1.24M-4.00 -2.17L-0.70 -2.17M-4.00 0.31L-0.70 0.31M-3.67 -2.17L-3.67 2.79M-1.03 -2.17L-1.03 2.79M-3.67 2.79L-1.03 2.79M2.35 -3.10L2.35 3.10M0.70 -0.93L3.67 -0.93M4.66 -2.79L4.66 2.48M4.66 -2.79L7.30 -2.79M7.30 -2.79L7.30 2.79M4.66 0.00L7.30 0.00M3.67 2.79L7.30 2.79M10.02 -2.79L10.02 3.10M12.00 -1.86L15.30 -1.86M12.00 0.00L15.30 0.00M12.00 1.86L15.30 1.86M13.65 -1.86L13.65 3.10M8.70 0.00L11.01 0.00" transform="translate(572.4,441.5) rotate(-44)"/><path d="M-14.64 -2.79L-14.64 2.79M-14.64 -2.79L-9.36 -2.79M-9.36 -2.79L-9.36 2.79M-14.64 -0.93L-9.36 -0.93M-14.64 0.93L-9.36 0.93M-14.64 2.79L-9.36 2.79M-5.98 -3.10L-5.98 3.10M-7.30 -1.24L-4.66 -1.24M-4.00 -2.17L-0.70 -2.17M-4.00 0.31L-0.70 0.31M-3.67 -2.17L-3.67 2.79M-1.03 -2.17L-1.03 2.79M-3.67 2.79L-1.03 2.79M2.35 -3.10L2.35 3.10M0.70 -0.93L3.67 -0.93M4.66 -2.79L4.66 2.48M4.66 -2.79L7.30 -2.79M7.30 -2.79L7.30 2.79M4.66 0.00L7.30 0.00M3.67 2.79L7.30 2.79M10.02 -2.79L10.02 3.10M12.00 -1.86L15.30 -1.86M12.00 0.00L15.30 0.00M12.00 1.86L15.30 1.86M13.65 -1.86L13.65 3.10M8.70 0.00L11.01 0.00" transform="translate(703.0,441.5) rotate(-44)"/><path d="M-14.64 -2.79L-14.64 2.79M-14.64 -2.79L-9.36 -2.79M-9.36 -2.79L-9.36 2.79M-14.64 -0.93L-9.36 -0.93M-14.64 0.93L-9.36 0.93M-14.64 2.79L-9.36 2.79M-5.98 -3.10L-5.98 3.10M-7.30 -1.24L-4.66 -1.24M-4.00 -2.17L-0.70 -2.17M-4.00 0.31L-0.70 0.31M-3.67 -2.17L-3.67 2.79M-1.03 -2.17L-1.03 2.79M-3.67 2.79L-1.03 2.79M2.35 -3.10L2.35 3.10M0.70 -0.93L3.67 -0.93M4.66 -2.79L4.66 2.48M4.66 -2.79L7.30 -2.79M7.30 -2.79L7.30 2.79M4.66 0.00L7.30 0.00M3.67 2.79L7.30 2.79M10.02 -2.79L10.02 3.10M12.00 -1.86L15.30 -1.86M12.00 0.00L15.30 0.00M12.00 1.86L15.30 1.86M13.65 -1.86L13.65 3.10M8.70 0.00L11.01 0.00" transform="translate(833.7,441.5) rotate(-44)"/><path d="M-14.64 -2.79L-14.64 2.79M-14.64 -2.79L-9.36 -2.79M-9.36 -2.79L-9.36 2.79M-14.64 -0.93L-9.36 -0.93M-14.64 0.93L-9.36 0.93M-14.64 2.79L-9.36 2.79M-5.98 -3.10L-5.98 3.10M-7.30 -1.24L-4.66 -1.24M-4.00 -2.17L-0.70 -2.17M-4.00 0.31L-0.70 0.31M-3.67 -2.17L-3.67 2.79M-1.03 -2.17L-1.03 2.79M-3.67 2.79L-1.03 2.79M2.35 -3.10L2.35 3.10M0.70 -0.93L3.67 -0.93M4.66 -2.79L4.66 2.48M4.66 -2.79L7.30 -2.79M7.30 -2.79L7.30 2.79M4.66 0.00L7.30 0.00M3.67 2.79L7.30 2.79M10.02 -2.79L10.02 3.10M12.00 -1.86L15.30 -1.86M12.00 0.00L15.30 0.00M12.00 1.86L15.30 1.86M13.65 -1.86L13.65 3.10M8.70 0.00L11.01 0.00" transform="translate(964.4,441.5) rotate(-44)"/></g></svg>
</div></body></html>
